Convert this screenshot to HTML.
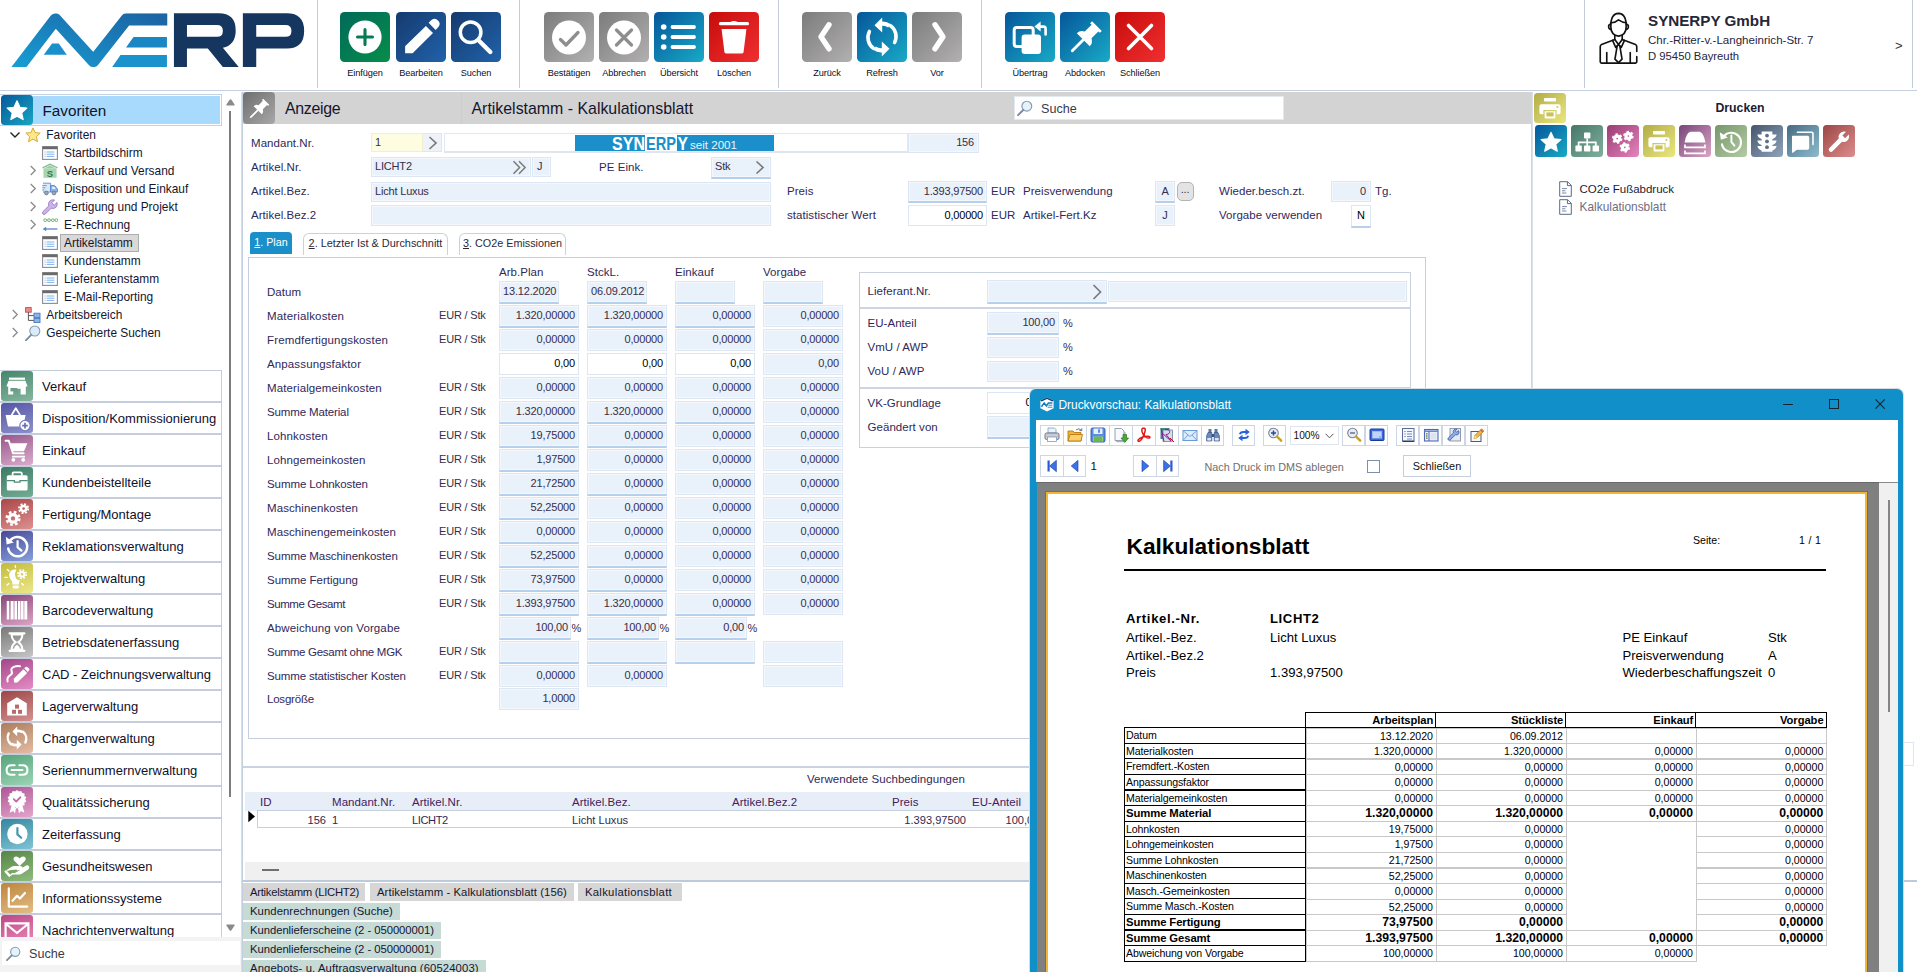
<!DOCTYPE html>
<html><head><meta charset="utf-8"><title>AvERP</title><style>
html,body{margin:0;padding:0;background:#fff;overflow:hidden;}
body{font-family:"Liberation Sans",sans-serif;color:#1b1b33;}
#root{position:relative;width:1917px;height:972px;overflow:hidden;background:#fff;}
#root div,#root svg,#root span.a{position:absolute;box-sizing:border-box;}
.t{white-space:nowrap;}
.l{font-size:11.5px;color:#30285a;letter-spacing:0.05px;}
.v{font-size:11px;color:#382e48;letter-spacing:-.18px;}
.g{font-size:11.1px;color:#32284e;}
.k{color:#000;}
.tb{font-size:9.2px;color:#0c0c26;text-align:center;letter-spacing:-.1px;}
.tr{font-size:11.9px;color:#15152f;}
.md{font-size:13px;color:#10102a;}
.hd{font-size:15.9px;color:#15152f;}
.bt{font-size:11.5px;color:#15152f;}
.pv{font-size:13.1px;color:#000;}
.pt{font-size:10.6px;color:#000;letter-spacing:-0.12px;}
.f{background:#e9f1fa;border:1px solid #dce7f3;box-shadow:inset 0 0 0 1px #f4f8fd;}

.fw{background:#fff;border:1px solid #dce7f3;}
</style></head>
<body><div id="root">
<div style="left:0px;top:90.2px;width:1917px;height:1.2px;background:#c6d0de;"></div>
<div style="left:317px;top:0px;width:1px;height:88px;background:#c3cbd8;"></div>
<div style="left:519px;top:0px;width:1px;height:88px;background:#c3cbd8;"></div>
<div style="left:778px;top:0px;width:1px;height:88px;background:#c3cbd8;"></div>
<div style="left:981px;top:0px;width:1px;height:88px;background:#c3cbd8;"></div>
<div style="left:1584px;top:0px;width:1px;height:88px;background:#c3cbd8;"></div>
<div style="left:1912px;top:0px;width:1px;height:88px;background:#c3cbd8;"></div>
<svg style="left:0px;top:0px;" width="320" height="90" viewBox="0 0 1917 539">
<defs><linearGradient id="lg" x1="0" y1="1" x2="1" y2="0"><stop offset="0" stop-color="#16a2d8"/><stop offset="1" stop-color="#1c64a4"/></linearGradient>
<clipPath id="lc"><rect x="0" y="80" width="1002" height="322"/></clipPath></defs>
<g clip-path="url(#lc)">
<path d="M76 450 L113 402 L332 116 L560 366 L757 116 L1010 116" fill="none" stroke="url(#lg)" stroke-width="72" stroke-linejoin="round"/>
</g>
<path d="M262 328 L400 328 L352 260 L312 260 Z" fill="#1a8fcb"/>
<path d="M800 222 H1000 V285 H755 Z" fill="#1a86c4"/>
<path d="M722 330 H1000 V402 H672 Z" fill="#1a92cc"/>
<path fill-rule="evenodd" fill="#14365f" d="M1042 80 H1310 Q1412 80 1412 182 Q1412 268 1335 286 L1430 402 H1335 L1245 290 H1120 V402 H1042 Z M1120 150 V220 H1300 Q1335 220 1335 185 Q1335 150 1300 150 Z"/>
<path fill-rule="evenodd" fill="#14365f" d="M1455 80 H1718 Q1822 80 1822 185 Q1822 290 1718 290 H1535 V402 H1455 Z M1535 150 V220 H1710 Q1746 220 1746 185 Q1746 150 1710 150 Z"/>
</svg>
<div style="left:340px;top:12px;width:50px;height:50px;background:linear-gradient(135deg,#006a5a,#078e4a);border-radius:4.5px;"></div>
<svg style="left:340px;top:12px;" width="50" height="50" viewBox="0 0 50 50"><circle cx="25" cy="25" r="16.6" fill="#fff"/><path d="M25 17.5v15M17.5 25h15" stroke="#067a52" stroke-width="3.1" stroke-linecap="round"/></svg>
<div class="t tb" style="left:330px;top:65.50px;line-height:14px;height:14px;width:70px;">Einfügen</div>
<div style="left:396px;top:12px;width:50px;height:50px;background:linear-gradient(135deg,#153a6e,#2162aa);border-radius:4.5px;"></div>
<svg style="left:396px;top:12px;" width="50" height="50" viewBox="0 0 50 50"><g transform="translate(.6 0)"><path d="M8.5 34.3 L29.3 13.9 L36.4 21 L16 41.3 H8.5 Z" fill="#fff"/><path d="M32 10.8 L35.2 7.7 Q38.6 5.4 41.4 8.6 Q44.6 11.8 41.8 15 L39 17.9 Z" fill="#fff"/></g></svg>
<div class="t tb" style="left:386px;top:65.50px;line-height:14px;height:14px;width:70px;">Bearbeiten</div>
<div style="left:451px;top:12px;width:50px;height:50px;background:linear-gradient(135deg,#153a6e,#2162aa);border-radius:4.5px;"></div>
<svg style="left:451px;top:12px;" width="50" height="50" viewBox="0 0 50 50"><circle cx="19.6" cy="20.2" r="10.3" fill="none" stroke="#fff" stroke-width="3.5"/><path d="M28.5 29.2 L39.3 40" stroke="#fff" stroke-width="4.4" stroke-linecap="round"/></svg>
<div class="t tb" style="left:441px;top:65.50px;line-height:14px;height:14px;width:70px;">Suchen</div>
<div style="left:544px;top:12px;width:50px;height:50px;background:linear-gradient(135deg,#7c7c7c,#b2b0b0);border-radius:4.5px;"></div>
<svg style="left:544px;top:12px;" width="50" height="50" viewBox="0 0 50 50"><circle cx="25" cy="25.5" r="17" fill="#fff"/><path d="M16.5 27.5 L22 33 L34 20.5" fill="none" stroke="#8e8e8e" stroke-width="3.3" stroke-linecap="round" stroke-linejoin="round"/></svg>
<div class="t tb" style="left:534px;top:65.50px;line-height:14px;height:14px;width:70px;">Bestätigen</div>
<div style="left:599px;top:12px;width:50px;height:50px;background:linear-gradient(135deg,#7c7c7c,#b2b0b0);border-radius:4.5px;"></div>
<svg style="left:599px;top:12px;" width="50" height="50" viewBox="0 0 50 50"><circle cx="25" cy="25.5" r="17" fill="#fff"/><path d="M17.5 18 L32.5 33 M32.5 18 L17.5 33" stroke="#8e8e8e" stroke-width="3.3" stroke-linecap="round"/></svg>
<div class="t tb" style="left:589px;top:65.50px;line-height:14px;height:14px;width:70px;">Abbrechen</div>
<div style="left:654px;top:12px;width:50px;height:50px;background:linear-gradient(135deg,#06569a,#18aac6);border-radius:4.5px;"></div>
<svg style="left:654px;top:12px;" width="50" height="50" viewBox="0 0 50 50"><circle cx="9.7" cy="15" r="2.8" fill="#fff"/><circle cx="9.7" cy="25" r="2.8" fill="#fff"/><circle cx="9.7" cy="35" r="2.8" fill="#fff"/><path d="M18.5 15H40M18.5 25H40M18.5 35H40" stroke="#fff" stroke-width="3.8" stroke-linecap="round"/></svg>
<div class="t tb" style="left:644px;top:65.50px;line-height:14px;height:14px;width:70px;">Übersicht</div>
<div style="left:709px;top:12px;width:50px;height:50px;background:linear-gradient(135deg,#c70b0b,#f03030);border-radius:4.5px;"></div>
<svg style="left:709px;top:12px;" width="50" height="50" viewBox="0 0 50 50"><path d="M11.5 11.7H38.5" stroke="#fff" stroke-width="3.2" stroke-linecap="round"/><path d="M21 10.2 q4 -2.4 8 0z" fill="#fff"/><path d="M12.6 17 H37.4 L34.6 40 Q34.4 41.4 33 41.4 H17 Q15.6 41.4 15.4 40 Z" fill="#fff"/></svg>
<div class="t tb" style="left:699px;top:65.50px;line-height:14px;height:14px;width:70px;">Löschen</div>
<div style="left:802px;top:12px;width:50px;height:50px;background:linear-gradient(135deg,#7c7c7c,#b2b0b0);border-radius:4.5px;"></div>
<svg style="left:802px;top:12px;" width="50" height="50" viewBox="0 0 50 50"><path d="M27 12.8 L19 24.8 L27 36.8" fill="none" stroke="#fff" stroke-width="5.4" stroke-linecap="round" stroke-linejoin="round"/></svg>
<div class="t tb" style="left:792px;top:65.50px;line-height:14px;height:14px;width:70px;">Zurück</div>
<div style="left:857px;top:12px;width:50px;height:50px;background:linear-gradient(135deg,#06569a,#18aac6);border-radius:4.5px;"></div>
<svg style="left:857px;top:12px;" width="50" height="50" viewBox="0 0 50 50"><path d="M33.5 13.6 A13.4 13.4 0 0 1 37.6 30.5" fill="none" stroke="#fff" stroke-width="3.6" stroke-linecap="round"/><path d="M16.5 36.4 A13.4 13.4 0 0 1 12.4 19.5" fill="none" stroke="#fff" stroke-width="3.6" stroke-linecap="round"/><path d="M17.5 13.2 L25.2 5.6 V9.6 Q30 9.4 33.8 12.2 L31.2 15.6 Q28.6 13.6 25.2 13.8 V20.4 Z" fill="#fff"/><path d="M32.5 36.8 L24.8 44.4 V40.4 Q20 40.6 16.2 37.8 L18.8 34.4 Q21.4 36.4 24.8 36.2 V29.6 Z" fill="#fff"/></svg>
<div class="t tb" style="left:847px;top:65.50px;line-height:14px;height:14px;width:70px;">Refresh</div>
<div style="left:912px;top:12px;width:50px;height:50px;background:linear-gradient(135deg,#7c7c7c,#b2b0b0);border-radius:4.5px;"></div>
<svg style="left:912px;top:12px;" width="50" height="50" viewBox="0 0 50 50"><path d="M23 12.8 L31 24.8 L23 36.8" fill="none" stroke="#fff" stroke-width="5.4" stroke-linecap="round" stroke-linejoin="round"/></svg>
<div class="t tb" style="left:902px;top:65.50px;line-height:14px;height:14px;width:70px;">Vor</div>
<div style="left:1005px;top:12px;width:50px;height:50px;background:linear-gradient(135deg,#06569a,#18aac6);border-radius:4.5px;"></div>
<svg style="left:1005px;top:12px;" width="50" height="50" viewBox="0 0 50 50"><rect x="9.2" y="15.5" width="19" height="19" rx="2.6" fill="none" stroke="#fff" stroke-width="3"/><rect x="16.6" y="22.6" width="19.4" height="19.4" rx="3" fill="#fff"/><path d="M34.6 14.6 H38.6 Q40.6 14.6 40.6 16.8 V22.4" fill="none" stroke="#fff" stroke-width="2.6" stroke-linecap="round"/><path d="M29.4 14.6 L35.6 9.6 V19.6 Z" fill="#fff"/></svg>
<div class="t tb" style="left:995px;top:65.50px;line-height:14px;height:14px;width:70px;">Übertrag</div>
<div style="left:1060px;top:12px;width:50px;height:50px;background:linear-gradient(135deg,#06569a,#18aac6);border-radius:4.5px;"></div>
<svg style="left:1060px;top:12px;" width="50" height="50" viewBox="0 0 50 50"><g transform="translate(25.4 25.6) scale(.88) rotate(45) translate(-25 -25)"><path d="M17.2 6.5 H32.8 V9.6 H30.4 V20.6 Q35.4 23 35.4 28.4 H14.6 Q14.6 23 19.6 20.6 V9.6 H17.2 Z" fill="#fff"/><path d="M25 28 V46" stroke="#fff" stroke-width="3.2" stroke-linecap="round"/></g></svg>
<div class="t tb" style="left:1050px;top:65.50px;line-height:14px;height:14px;width:70px;">Abdocken</div>
<div style="left:1115px;top:12px;width:50px;height:50px;background:linear-gradient(135deg,#c70b0b,#f03030);border-radius:4.5px;"></div>
<svg style="left:1115px;top:12px;" width="50" height="50" viewBox="0 0 50 50"><path d="M13.5 13.5 L36.5 36.5 M36.5 13.5 L13.5 36.5" stroke="#fff" stroke-width="3.6" stroke-linecap="round"/></svg>
<div class="t tb" style="left:1105px;top:65.50px;line-height:14px;height:14px;width:70px;">Schließen</div>
<svg style="left:1598.3px;top:9.5px;" width="41" height="56" viewBox="0 0 44 60">
<g fill="none" stroke="#111" stroke-width="1.75" stroke-linejoin="round" stroke-linecap="round">
<path d="M13.8 18.6 Q13.2 4 22 3.6 Q30.8 4 30.2 18.6 Q30 27 22 28 Q14 27 13.8 18.6 Z"/>
<path d="M13.6 13.6 Q18 14 22 10.6 Q26 13.4 30.4 13.6"/>
<path d="M13.6 15 q-2.4 .4 -2.2 3.2 q.2 2.4 2.6 2.6 M30.4 15 q2.4 .4 2.2 3.2 q-.2 2.4 -2.6 2.6"/>
<path d="M18 27 V31.6 M26 27 V31.6"/>
<path d="M18 31.6 L3.8 37 Q2.4 37.6 2.4 39.4 V55.6 Q2.4 57 3.8 57 H40.2 Q41.6 57 41.6 55.6 V50 M41.6 44.4 V39.4 Q41.6 37.6 40.2 37 L26 31.6"/>
<path d="M9.4 45.6 V57 M34.6 45.6 V57"/>
<path d="M18 31.6 L22 37 L26 31.6 M15.6 32.6 L19 40 L22 37 L25 40 L28.4 32.6"/>
<path d="M20.6 38.4 L18.2 52.6 L22 56.4 L25.8 52.6 L23.4 38.4"/>
</g></svg>
<div class="t " style="left:1648px;top:10.80px;line-height:20px;height:20px;font-size:15.2px;font-weight:700;color:#26263a;">SYNERPY GmbH</div>
<div class="t " style="left:1648px;top:30.60px;line-height:18px;height:18px;font-size:11.55px;color:#26263e;">Chr.-Ritter-v.-Langheinrich-Str. 7</div>
<div class="t " style="left:1648px;top:47.40px;line-height:18px;height:18px;font-size:11.3px;color:#26263e;">D 95450 Bayreuth</div>
<div class="t " style="left:1895px;top:36.50px;line-height:18px;height:18px;font-size:13px;color:#333;">&gt;</div>
<div style="left:0px;top:94px;width:222px;height:32px;border:1px solid #c3d3e6;border-left:none;background:#fff;"></div>
<div style="left:33px;top:96px;width:187px;height:28px;background:#a7dafc;"></div>
<div style="left:1px;top:95px;width:32px;height:30px;background:linear-gradient(135deg,#06589a,#17a6c4);border-radius:3.5px;"></div>
<svg style="left:1px;top:95px;" width="32" height="30" viewBox="0 0 32 30"><path d="M16 3.4 L19.5 11 L27.7 11.9 L21.6 17.5 L23.3 25.7 L16 21.6 L8.7 25.7 L10.4 17.5 L4.3 11.9 L12.5 11 Z" transform="translate(16 15.6) scale(.84) translate(-16 -15)" fill="#fff" stroke="#fff" stroke-width="1.4" stroke-linejoin="round"/></svg>
<div class="t " style="left:42.5px;top:100.00px;line-height:22px;height:22px;font-size:15.3px;color:#12122e;">Favoriten</div>
<svg style="left:9px;top:131.2px;" width="12" height="8" viewBox="0 0 11 8"><path d="M1 1.5 L5.5 6 L10 1.5" fill="none" stroke="#222" stroke-width="1.4"/></svg>
<svg style="left:24.5px;top:126.69999999999999px;" width="16" height="16" viewBox="0 0 16 16"><path d="M8 .9 L10.1 5.6 L15.2 6.1 L11.4 9.6 L12.5 14.7 L8 12.1 L3.5 14.7 L4.6 9.6 L.8 6.1 L5.9 5.6 Z" fill="#fde88a" stroke="#d9a93a" stroke-width="1" stroke-linejoin="round"/></svg>
<div class="t tr" style="left:46.3px;top:125.70px;line-height:18px;height:18px;">Favoriten</div>
<svg style="left:42px;top:146.10000000000002px;" width="16" height="14" viewBox="0 0 16 14"><rect x=".6" y=".6" width="14.8" height="12.8" fill="#fff" stroke="#8c8c8c" stroke-width="1.1"/><rect x=".6" y=".6" width="14.8" height="2.6" fill="#6a6a6a"/><path d="M4.6 6H12.4M4.6 8.2H12.4M4.6 10.4H12.4" stroke="#7fb4ee" stroke-width="1"/><path d="M2.6 6h1M2.6 8.2h1M2.6 10.4h1" stroke="#7fb4ee" stroke-width="1"/></svg>
<div class="t tr" style="left:64px;top:143.80px;line-height:18px;height:18px;">Startbildschirm</div>
<svg style="left:29px;top:165.3px;" width="8" height="11" viewBox="0 0 7.5 11"><path d="M1.5 1 L6 5.5 L1.5 10" fill="none" stroke="#8a8a8a" stroke-width="1.3"/></svg>
<svg style="left:42px;top:162.8px;" width="16" height="16" viewBox="0 0 16 16"><path d="M8 .6 L15.6 4.2 V5.4 L8 1.9 L.4 5.4 V4.2 Z" fill="#7dbb8c"/><path d="M8 2.6 L14.4 5.6 H1.6 Z" fill="#9ccfa6"/><rect x="1.4" y="5.4" width="13.2" height="9.4" fill="#a9d6b0"/><text x="8" y="13.6" font-size="9.4" font-weight="700" text-anchor="middle" fill="#2f7a4c" font-family="Liberation Sans">S</text></svg>
<div class="t tr" style="left:64px;top:161.80px;line-height:18px;height:18px;">Verkauf und Versand</div>
<svg style="left:29px;top:183.3px;" width="8" height="11" viewBox="0 0 7.5 11"><path d="M1.5 1 L6 5.5 L1.5 10" fill="none" stroke="#8a8a8a" stroke-width="1.3"/></svg>
<svg style="left:42px;top:180.8px;" width="16" height="16" viewBox="0 0 16 16"><path d="M1 2.2H8.6V11H1" fill="#dbe8f8" stroke="#6e9ad4" stroke-width="1"/><path d="M8.6 4.6H12.6L15.4 8V11H8.6Z" fill="#8db4e8" stroke="#5c8bcc" stroke-width="1"/><path d="M10.2 5.8h2l1.6 2.2h-3.6z" fill="#e8f1fc"/><path d="M.2 4.6h4.4M.2 6.8h3.2M.2 9h2.2" stroke="#6e9ad4" stroke-width="1"/><circle cx="4.4" cy="12" r="1.9" fill="#9aa8b8" stroke="#6a7888" stroke-width=".8"/><circle cx="12" cy="12" r="1.9" fill="#9aa8b8" stroke="#6a7888" stroke-width=".8"/></svg>
<div class="t tr" style="left:64px;top:179.80px;line-height:18px;height:18px;">Disposition und Einkauf</div>
<svg style="left:29px;top:201.3px;" width="8" height="11" viewBox="0 0 7.5 11"><path d="M1.5 1 L6 5.5 L1.5 10" fill="none" stroke="#8a8a8a" stroke-width="1.3"/></svg>
<svg style="left:42px;top:198.8px;" width="16" height="16" viewBox="0 0 16 16"><path d="M15 3.4 L12.2 6.2 L9.8 3.8 L12.6 1 Q9.6 .2 7.6 2.2 Q5.8 4.2 6.8 6.8 L.9 12.7 Q-.1 13.9 1 15 Q2.1 16.1 3.3 15.1 L9.2 9.2 Q11.8 10.2 13.8 8.4 Q15.8 6.4 15 3.4 Z" fill="#cbb4e6" stroke="#9a7cc4" stroke-width=".9"/></svg>
<div class="t tr" style="left:64px;top:197.80px;line-height:18px;height:18px;">Fertigung und Projekt</div>
<svg style="left:29px;top:219.3px;" width="8" height="11" viewBox="0 0 7.5 11"><path d="M1.5 1 L6 5.5 L1.5 10" fill="none" stroke="#8a8a8a" stroke-width="1.3"/></svg>
<svg style="left:42px;top:216.8px;" width="16" height="16" viewBox="0 0 16 16"><path d="M2 3.2H15" stroke="#8ac494" stroke-width="1"/><circle cx="3.2" cy="3.2" r="1.4" fill="#fff" stroke="#5fae6e" stroke-width=".9"/><circle cx="7" cy="3.2" r="1.4" fill="#fff" stroke="#5fae6e" stroke-width=".9"/><circle cx="10.8" cy="3.2" r="1.4" fill="#fff" stroke="#5fae6e" stroke-width=".9"/><circle cx="14.4" cy="3.2" r="1.4" fill="#fff" stroke="#5fae6e" stroke-width=".9"/><path d="M3 12H15.4" stroke="#5a86c8" stroke-width="1.3"/><path d="M.6 12 L4.2 9.8 V14.2 Z" fill="#5a86c8"/></svg>
<div class="t tr" style="left:64px;top:215.80px;line-height:18px;height:18px;">E-Rechnung</div>
<svg style="left:42px;top:236.10000000000002px;" width="16" height="14" viewBox="0 0 16 14"><rect x=".6" y=".6" width="14.8" height="12.8" fill="#fff" stroke="#8c8c8c" stroke-width="1.1"/><rect x=".6" y=".6" width="14.8" height="2.6" fill="#6a6a6a"/><path d="M4.6 6H12.4M4.6 8.2H12.4M4.6 10.4H12.4" stroke="#7fb4ee" stroke-width="1"/><path d="M2.6 6h1M2.6 8.2h1M2.6 10.4h1" stroke="#7fb4ee" stroke-width="1"/></svg>
<div style="left:60px;top:234.0px;width:79px;height:17.6px;background:#d9d9d9;border:1px solid #adadad;"></div>
<div class="t tr" style="left:64px;top:233.80px;line-height:18px;height:18px;">Artikelstamm</div>
<svg style="left:42px;top:254.10000000000002px;" width="16" height="14" viewBox="0 0 16 14"><rect x=".6" y=".6" width="14.8" height="12.8" fill="#fff" stroke="#8c8c8c" stroke-width="1.1"/><rect x=".6" y=".6" width="14.8" height="2.6" fill="#6a6a6a"/><path d="M4.6 6H12.4M4.6 8.2H12.4M4.6 10.4H12.4" stroke="#7fb4ee" stroke-width="1"/><path d="M2.6 6h1M2.6 8.2h1M2.6 10.4h1" stroke="#7fb4ee" stroke-width="1"/></svg>
<div class="t tr" style="left:64px;top:251.80px;line-height:18px;height:18px;">Kundenstamm</div>
<svg style="left:42px;top:272.1px;" width="16" height="14" viewBox="0 0 16 14"><rect x=".6" y=".6" width="14.8" height="12.8" fill="#fff" stroke="#8c8c8c" stroke-width="1.1"/><rect x=".6" y=".6" width="14.8" height="2.6" fill="#6a6a6a"/><path d="M4.6 6H12.4M4.6 8.2H12.4M4.6 10.4H12.4" stroke="#7fb4ee" stroke-width="1"/><path d="M2.6 6h1M2.6 8.2h1M2.6 10.4h1" stroke="#7fb4ee" stroke-width="1"/></svg>
<div class="t tr" style="left:64px;top:269.80px;line-height:18px;height:18px;">Lieferantenstamm</div>
<svg style="left:42px;top:290.1px;" width="16" height="14" viewBox="0 0 16 14"><rect x=".6" y=".6" width="14.8" height="12.8" fill="#fff" stroke="#8c8c8c" stroke-width="1.1"/><rect x=".6" y=".6" width="14.8" height="2.6" fill="#6a6a6a"/><path d="M4.6 6H12.4M4.6 8.2H12.4M4.6 10.4H12.4" stroke="#7fb4ee" stroke-width="1"/><path d="M2.6 6h1M2.6 8.2h1M2.6 10.4h1" stroke="#7fb4ee" stroke-width="1"/></svg>
<div class="t tr" style="left:64px;top:287.80px;line-height:18px;height:18px;">E-Mail-Reporting</div>
<svg style="left:11px;top:309.3px;" width="8" height="11" viewBox="0 0 7.5 11"><path d="M1.5 1 L6 5.5 L1.5 10" fill="none" stroke="#8a8a8a" stroke-width="1.3"/></svg>
<svg style="left:24.5px;top:306.8px;" width="16" height="16" viewBox="0 0 16 16"><rect x=".6" y=".6" width="5.6" height="4.6" fill="#f08a8a" stroke="#c84a4a" stroke-width=".9"/><path d="M3.4 5.2V13.4H9M3.4 8.6H9" fill="none" stroke="#555" stroke-width="1"/><rect x="9" y="6.2" width="6" height="4.4" fill="#8db4e8" stroke="#4a78c0" stroke-width=".9"/><rect x="9" y="11.4" width="6" height="4.2" fill="#8db4e8" stroke="#4a78c0" stroke-width=".9"/></svg>
<div class="t tr" style="left:46.3px;top:305.80px;line-height:18px;height:18px;">Arbeitsbereich</div>
<svg style="left:11px;top:327.3px;" width="8" height="11" viewBox="0 0 7.5 11"><path d="M1.5 1 L6 5.5 L1.5 10" fill="none" stroke="#8a8a8a" stroke-width="1.3"/></svg>
<svg style="left:24.5px;top:324.8px;" width="16" height="16" viewBox="0 0 16 16"><circle cx="9.8" cy="6" r="5" fill="#d8ecfb" stroke="#8a9aae" stroke-width="1.1"/><path d="M6.2 9.8 L.9 15.3" stroke="#7a8aa0" stroke-width="1.8" stroke-linecap="round"/></svg>
<div class="t tr" style="left:46.3px;top:323.80px;line-height:18px;height:18px;">Gespeicherte Suchen</div>
<svg style="left:225.5px;top:98.5px;" width="9" height="7" viewBox="0 0 9 7"><path d="M4.5 .2 Q5 .2 5.4 .8 L8.6 5.6 Q9 6.6 8 6.6 H1 Q0 6.6 .4 5.6 L3.6 .8 Q4 .2 4.5 .2Z" fill="#8a8a8a"/></svg>
<div style="left:229px;top:111px;width:2px;height:686px;background:#7d7d7d;"></div>
<svg style="left:225.5px;top:924px;" width="9" height="7" viewBox="0 0 9 7"><path d="M4.5 6.8 Q5 6.8 5.4 6.2 L8.6 1.4 Q9 .4 8 .4 H1 Q0 .4 .4 1.4 L3.6 6.2 Q4 6.8 4.5 6.8Z" fill="#8a8a8a"/></svg>
<div style="left:241px;top:92px;width:2px;height:880px;background:linear-gradient(90deg,#dfe7f0,#b9c7d9);"></div>
<div style="left:0px;top:370px;width:222px;height:32px;overflow:hidden;"><div style="left:0;top:0;width:222px;height:32px;border:1px solid #c3cddd;border-left:none;background:#fff;"></div><div style="left:1px;top:1px;width:220px;height:31px;overflow:hidden"><div style="left:0;top:0;width:32px;height:30px;border-radius:3px;background:linear-gradient(160deg,#44866a,#86b6a0);"></div><svg style="left:0;top:0" width="32" height="30" viewBox="0 0 32 30"><path d="M8 6.6h16v2.2H8z" fill="#fff"/><path d="M7.6 9.8h16.8l2.2 5.6h-1.8v8.2H19.6v-5.8h-7.4v5.8H7.2v-8.2H5.4z" fill="#fff"/><rect x="9.4" y="17" width="6.8" height="3.4" fill="#6a9e88"/></svg><div class="t md" style="left:41px;top:6px;line-height:20px;height:20px">Verkauf</div></div></div>
<div style="left:0px;top:402px;width:222px;height:32px;overflow:hidden;"><div style="left:0;top:0;width:222px;height:32px;border:1px solid #c3cddd;border-left:none;background:#fff;"></div><div style="left:1px;top:1px;width:220px;height:31px;overflow:hidden"><div style="left:0;top:0;width:32px;height:30px;border-radius:3px;background:linear-gradient(160deg,#5555a4,#8e92cc);"></div><svg style="left:0;top:0" width="32" height="30" viewBox="0 0 32 30"><path d="M4.6 12h20l-2.4 11.4H7z" fill="#fff"/><path d="M10.4 12.4 L14.8 5.2 L19.2 12.4" fill="none" stroke="#fff" stroke-width="1.8" stroke-linejoin="round"/><circle cx="24" cy="22.6" r="5.2" fill="#fff" stroke="#7a7ebc" stroke-width="1.2"/><path d="M24 19.8v5.6M21.2 22.6h5.6" stroke="#6a6eb4" stroke-width="1.7"/></svg><div class="t md" style="left:41px;top:6px;line-height:20px;height:20px">Disposition/Kommissionierung</div></div></div>
<div style="left:0px;top:434px;width:222px;height:32px;overflow:hidden;"><div style="left:0;top:0;width:222px;height:32px;border:1px solid #c3cddd;border-left:none;background:#fff;"></div><div style="left:1px;top:1px;width:220px;height:31px;overflow:hidden"><div style="left:0;top:0;width:32px;height:30px;border-radius:3px;background:linear-gradient(160deg,#96568a,#daaccc);"></div><svg style="left:0;top:0" width="32" height="30" viewBox="0 0 32 30"><path d="M4.6 5.8h3.2l4.2 12.4h10.6" fill="none" stroke="#fff" stroke-width="2" stroke-linejoin="round" stroke-linecap="round"/><path d="M9 8.2h17.4l-3.4 8H11.6z" fill="#fff"/><path d="M11 21.6h13" stroke="#fff" stroke-width="1.8"/><circle cx="12.4" cy="24.8" r="1.9" fill="#fff"/><circle cx="22.2" cy="24.8" r="1.9" fill="#fff"/></svg><div class="t md" style="left:41px;top:6px;line-height:20px;height:20px">Einkauf</div></div></div>
<div style="left:0px;top:466px;width:222px;height:32px;overflow:hidden;"><div style="left:0;top:0;width:222px;height:32px;border:1px solid #c3cddd;border-left:none;background:#fff;"></div><div style="left:1px;top:1px;width:220px;height:31px;overflow:hidden"><div style="left:0;top:0;width:32px;height:30px;border-radius:3px;background:linear-gradient(160deg,#3a7a64,#74ac94);"></div><svg style="left:0;top:0" width="32" height="30" viewBox="0 0 32 30"><rect x="5.8" y="8.2" width="20.8" height="15.4" rx="1.6" fill="#fff"/><path d="M11.6 8.4V6.6q0-1.2 1.2-1.2h6.8q1.2 0 1.2 1.2v1.8" fill="none" stroke="#fff" stroke-width="1.8"/><path d="M5.8 13.6h7.6v1.6h5.6v-1.6h7.6" fill="none" stroke="#4f8c76" stroke-width="1.3"/></svg><div class="t md" style="left:41px;top:6px;line-height:20px;height:20px">Kundenbeistellteile</div></div></div>
<div style="left:0px;top:498px;width:222px;height:32px;overflow:hidden;"><div style="left:0;top:0;width:222px;height:32px;border:1px solid #c3cddd;border-left:none;background:#fff;"></div><div style="left:1px;top:1px;width:220px;height:31px;overflow:hidden"><div style="left:0;top:0;width:32px;height:30px;border-radius:3px;background:linear-gradient(160deg,#ac4646,#dc9090);"></div><svg style="left:0;top:0" width="32" height="30" viewBox="0 0 32 30"><g fill="none" stroke="#fff"><circle cx="12" cy="19.4" r="3.8" stroke-width="3.2"/><circle cx="12" cy="19.4" r="6.3" stroke-width="2.6" stroke-dasharray="2.6 2.35"/><circle cx="22.6" cy="9.6" r="2.6" stroke-width="2.4"/><circle cx="22.6" cy="9.6" r="4.5" stroke-width="2" stroke-dasharray="1.9 1.63"/></g></svg><div class="t md" style="left:41px;top:6px;line-height:20px;height:20px">Fertigung/Montage</div></div></div>
<div style="left:0px;top:530px;width:222px;height:32px;overflow:hidden;"><div style="left:0;top:0;width:222px;height:32px;border:1px solid #c3cddd;border-left:none;background:#fff;"></div><div style="left:1px;top:1px;width:220px;height:31px;overflow:hidden"><div style="left:0;top:0;width:32px;height:30px;border-radius:3px;background:linear-gradient(160deg,#484896,#84a0dc);"></div><svg style="left:0;top:0" width="32" height="30" viewBox="0 0 32 30"><path d="M8.6 10.4 A9.6 9.6 0 1 1 7.2 17.6" fill="none" stroke="#fff" stroke-width="2.5" stroke-linecap="round"/><path d="M4.8 5.8 L5.6 13.4 L12.8 11.6 Z" fill="#fff"/><path d="M16.6 10v6.2l3.8 3.4" fill="none" stroke="#fff" stroke-width="2.2" stroke-linecap="round"/></svg><div class="t md" style="left:41px;top:6px;line-height:20px;height:20px">Reklamationsverwaltung</div></div></div>
<div style="left:0px;top:562px;width:222px;height:32px;overflow:hidden;"><div style="left:0;top:0;width:222px;height:32px;border:1px solid #c3cddd;border-left:none;background:#fff;"></div><div style="left:1px;top:1px;width:220px;height:31px;overflow:hidden"><div style="left:0;top:0;width:32px;height:30px;border-radius:3px;background:linear-gradient(160deg,#c2ba3c,#ece888);"></div><svg style="left:0;top:0" width="32" height="30" viewBox="0 0 32 30"><path d="M15.4 6.6 Q10 5.6 8.4 10.6 Q7.6 14.4 10.4 17.4 Q11.4 18.6 11.4 20.4 V21.4 H18 V20.4 Q18 18.8 19.2 17.6 Q16 17.8 14.6 14.6 Q13.2 10.6 15.4 6.6Z" fill="#fff"/><rect x="11.6" y="22.4" width="6.2" height="3" rx="1" fill="#fff"/><g fill="none" stroke="#fff"><circle cx="21" cy="11.2" r="2.3" stroke-width="2"/><circle cx="21" cy="11.2" r="4.1" stroke-width="1.8" stroke-dasharray="1.7 1.52"/></g><path d="M4 14.4h2.4M6.4 6.4l1.6 1.6M14.4 2.6v2M6 22l1.8-1.4M22.4 22l-1.6-1.4" stroke="#fff" stroke-width="1.4" stroke-linecap="round"/></svg><div class="t md" style="left:41px;top:6px;line-height:20px;height:20px">Projektverwaltung</div></div></div>
<div style="left:0px;top:594px;width:222px;height:32px;overflow:hidden;"><div style="left:0;top:0;width:222px;height:32px;border:1px solid #c3cddd;border-left:none;background:#fff;"></div><div style="left:1px;top:1px;width:220px;height:31px;overflow:hidden"><div style="left:0;top:0;width:32px;height:30px;border-radius:3px;background:linear-gradient(160deg,#86467a,#dca4c4);"></div><svg style="left:0;top:0" width="32" height="30" viewBox="0 0 32 30"><path d="M7 6v18.4M10.8 6v18.4M14.8 6v18.4M18.2 6v18.4M21.2 6v18.4M25 6v18.4" stroke="#fff" stroke-width="2.5"/><path d="M12.8 6v18.4M23.2 6v18.4" stroke="#fff" stroke-width=".9"/></svg><div class="t md" style="left:41px;top:6px;line-height:20px;height:20px">Barcodeverwaltung</div></div></div>
<div style="left:0px;top:626px;width:222px;height:32px;overflow:hidden;"><div style="left:0;top:0;width:222px;height:32px;border:1px solid #c3cddd;border-left:none;background:#fff;"></div><div style="left:1px;top:1px;width:220px;height:31px;overflow:hidden"><div style="left:0;top:0;width:32px;height:30px;border-radius:3px;background:linear-gradient(160deg,#787878,#c6c6c6);"></div><svg style="left:0;top:0" width="32" height="30" viewBox="0 0 32 30"><path d="M8.6 6.4h14.8M8.6 23.8h14.8" stroke="#fff" stroke-width="2.2" stroke-linecap="round"/><path d="M10.6 7.4h10.8q0 4.6-4 7.7q4 3 4 7.7H10.6q0-4.7 4-7.7q-4-3.1-4-7.7z" fill="none" stroke="#fff" stroke-width="2"/><path d="M12.6 22.4q1-3.4 3.4-4.6q2.4 1.2 3.4 4.6z" fill="#fff"/></svg><div class="t md" style="left:41px;top:6px;line-height:20px;height:20px">Betriebsdatenerfassung</div></div></div>
<div style="left:0px;top:658px;width:222px;height:32px;overflow:hidden;"><div style="left:0;top:0;width:222px;height:32px;border:1px solid #c3cddd;border-left:none;background:#fff;"></div><div style="left:1px;top:1px;width:220px;height:31px;overflow:hidden"><div style="left:0;top:0;width:32px;height:30px;border-radius:3px;background:linear-gradient(160deg,#a4468a,#e48cc4);"></div><svg style="left:0;top:0" width="32" height="30" viewBox="0 0 32 30"><path d="M6.6 22.6 Q5.6 18.6 9 16.4 Q12 14.6 10.6 12 Q9.4 9.2 13.4 7.6 Q16.4 6.6 19 7.2" fill="none" stroke="#fff" stroke-width="2" stroke-linecap="round"/><path d="M13.4 23.8 L12.6 20 L22.4 10.2 L26.2 14 L16.4 23.6 Z" fill="#fff"/><path d="M23.2 9.2l1.4-1.2q1-.8 2 .2l1.4 1.4q1 1 0 2l-1.2 1.4z" fill="#fff"/></svg><div class="t md" style="left:41px;top:6px;line-height:20px;height:20px">CAD - Zeichnungsverwaltung</div></div></div>
<div style="left:0px;top:690px;width:222px;height:32px;overflow:hidden;"><div style="left:0;top:0;width:222px;height:32px;border:1px solid #c3cddd;border-left:none;background:#fff;"></div><div style="left:1px;top:1px;width:220px;height:31px;overflow:hidden"><div style="left:0;top:0;width:32px;height:30px;border-radius:3px;background:linear-gradient(160deg,#9c4646,#d49090);"></div><svg style="left:0;top:0" width="32" height="30" viewBox="0 0 32 30"><path d="M6.2 12.2 L16 6.2 L25.8 12.2 V24.4 H6.2 Z" fill="#fff"/><rect x="14" y="13.6" width="4" height="4" fill="#b86a6a"/><rect x="11" y="18.8" width="4" height="4" fill="#b86a6a"/><rect x="17" y="18.8" width="4" height="4" fill="#b86a6a"/></svg><div class="t md" style="left:41px;top:6px;line-height:20px;height:20px">Lagerverwaltung</div></div></div>
<div style="left:0px;top:722px;width:222px;height:32px;overflow:hidden;"><div style="left:0;top:0;width:222px;height:32px;border:1px solid #c3cddd;border-left:none;background:#fff;"></div><div style="left:1px;top:1px;width:220px;height:31px;overflow:hidden"><div style="left:0;top:0;width:32px;height:30px;border-radius:3px;background:linear-gradient(160deg,#ac7c5c,#e4bca4);"></div><svg style="left:0;top:0" width="32" height="30" viewBox="0 0 32 30"><path d="M22 8.8 A9 9 0 0 1 24.4 19.6" fill="none" stroke="#fff" stroke-width="2.4" stroke-linecap="round"/><path d="M10 21.2 A9 9 0 0 1 7.6 10.4" fill="none" stroke="#fff" stroke-width="2.4" stroke-linecap="round"/><path d="M11.4 8.4 L16.2 3.6 V6.4 Q19.6 6.2 22.4 8 L20.8 10.2 Q18.8 9 16.2 9.2 V13.2 Z" fill="#fff"/><path d="M20.6 21.6 L15.8 26.4 V23.6 Q12.4 23.8 9.6 22 L11.2 19.8 Q13.2 21 15.8 20.8 V16.8 Z" fill="#fff"/></svg><div class="t md" style="left:41px;top:6px;line-height:20px;height:20px">Chargenverwaltung</div></div></div>
<div style="left:0px;top:754px;width:222px;height:32px;overflow:hidden;"><div style="left:0;top:0;width:222px;height:32px;border:1px solid #c3cddd;border-left:none;background:#fff;"></div><div style="left:1px;top:1px;width:220px;height:31px;overflow:hidden"><div style="left:0;top:0;width:32px;height:30px;border-radius:3px;background:linear-gradient(160deg,#54a47c,#9cd4b4);"></div><svg style="left:0;top:0" width="32" height="30" viewBox="0 0 32 30"><path d="M13.6 10.2H10.4Q5.6 10.2 5.6 15Q5.6 19.8 10.4 19.8H13.6M18.4 10.2H21.6Q26.4 10.2 26.4 15Q26.4 19.8 21.6 19.8H18.4M10.6 15H21.4" fill="none" stroke="#fff" stroke-width="2.1" stroke-linecap="round"/></svg><div class="t md" style="left:41px;top:6px;line-height:20px;height:20px">Seriennummernverwaltung</div></div></div>
<div style="left:0px;top:786px;width:222px;height:32px;overflow:hidden;"><div style="left:0;top:0;width:222px;height:32px;border:1px solid #c3cddd;border-left:none;background:#fff;"></div><div style="left:1px;top:1px;width:220px;height:31px;overflow:hidden"><div style="left:0;top:0;width:32px;height:30px;border-radius:3px;background:linear-gradient(160deg,#ac5694,#e4a4cc);"></div><svg style="left:0;top:0" width="32" height="30" viewBox="0 0 32 30"><path d="M16 4.6l1.8 1.7 2.4-.6 1 2.3 2.4.6-.2 2.5 2 1.5-1.2 2.2 1.2 2.2-2 1.5.2 2.5-2.4.6-1 2.3-2.4-.6-1.8 1.7-1.8-1.7-2.4.6-1-2.3-2.4-.6.2-2.5-2-1.5 1.2-2.2-1.2-2.2 2-1.5-.2-2.5 2.4-.6 1-2.3 2.4.6z" transform="translate(0,-1.4) scale(1,.93)" fill="#fff"/><path d="M10.6 18.4 L8.6 25.8 L12.2 24 L14 26.6 L15 21 M21.4 18.4 L23.4 25.8 L19.8 24 L18 26.6 L17 21" fill="#fff"/><path d="M12.8 12.2l2.4 2.4 4.2-4.4" fill="none" stroke="#bc6ea4" stroke-width="1.9" stroke-linecap="round" stroke-linejoin="round"/></svg><div class="t md" style="left:41px;top:6px;line-height:20px;height:20px">Qualitätssicherung</div></div></div>
<div style="left:0px;top:818px;width:222px;height:32px;overflow:hidden;"><div style="left:0;top:0;width:222px;height:32px;border:1px solid #c3cddd;border-left:none;background:#fff;"></div><div style="left:1px;top:1px;width:220px;height:31px;overflow:hidden"><div style="left:0;top:0;width:32px;height:30px;border-radius:3px;background:linear-gradient(160deg,#36869f,#7ec4d4);"></div><svg style="left:0;top:0" width="32" height="30" viewBox="0 0 32 30"><circle cx="16.4" cy="15" r="10.2" fill="#fff"/><path d="M16.4 9v6.4l3.8 3.4" fill="none" stroke="#4a96ac" stroke-width="2.2" stroke-linecap="round" stroke-linejoin="round"/></svg><div class="t md" style="left:41px;top:6px;line-height:20px;height:20px">Zeiterfassung</div></div></div>
<div style="left:0px;top:850px;width:222px;height:32px;overflow:hidden;"><div style="left:0;top:0;width:222px;height:32px;border:1px solid #c3cddd;border-left:none;background:#fff;"></div><div style="left:1px;top:1px;width:220px;height:31px;overflow:hidden"><div style="left:0;top:0;width:32px;height:30px;border-radius:3px;background:linear-gradient(160deg,#568646,#8ebc7e);"></div><svg style="left:0;top:0" width="32" height="30" viewBox="0 0 32 30"><path d="M19.4 13.6 L13.6 8 Q11.8 5.4 14.4 3.8 Q17 2.8 19.4 5.6 Q21.8 2.8 24.4 3.8 Q27 5.4 25.2 8 Z" transform="translate(.4,2.2) scale(.94)" fill="#fff"/><path d="M6.2 19.6 L11 16.4 Q12 15.8 13.4 15.8 H19.4 Q21 16 20.8 17.4 Q20.6 18.6 19.2 18.6 H15.6 M20.6 18.2 L25 15.4 Q26.6 14.6 27.4 15.8 Q28 17 26.8 17.9 L20.4 22.2 Q19.4 22.8 18 22.8 H11.2 L9.4 24.4" fill="#fff" stroke="#fff" stroke-width="1.4" stroke-linejoin="round"/><path d="M5 19 L10 24.6 L8.2 26.2 L3.2 20.6 Z" fill="#fff"/></svg><div class="t md" style="left:41px;top:6px;line-height:20px;height:20px">Gesundheitswesen</div></div></div>
<div style="left:0px;top:882px;width:222px;height:32px;overflow:hidden;"><div style="left:0;top:0;width:222px;height:32px;border:1px solid #c3cddd;border-left:none;background:#fff;"></div><div style="left:1px;top:1px;width:220px;height:31px;overflow:hidden"><div style="left:0;top:0;width:32px;height:30px;border-radius:3px;background:linear-gradient(160deg,#bc863c,#e4bc84);"></div><svg style="left:0;top:0" width="32" height="30" viewBox="0 0 32 30"><path d="M7.8 5.4V23.6H26.2" fill="none" stroke="#fff" stroke-width="2.2" stroke-linecap="round" stroke-linejoin="round"/><path d="M11.6 17.8l4.4-5 3 2.8 5-5.6" fill="none" stroke="#fff" stroke-width="2.2" stroke-linecap="round" stroke-linejoin="round"/></svg><div class="t md" style="left:41px;top:6px;line-height:20px;height:20px">Informationssysteme</div></div></div>
<div style="left:0px;top:914px;width:222px;height:23px;overflow:hidden;"><div style="left:0;top:0;width:222px;height:32px;border:1px solid #c3cddd;border-left:none;background:#fff;"></div><div style="left:1px;top:1px;width:220px;height:31px;overflow:hidden"><div style="left:0;top:0;width:32px;height:30px;border-radius:3px;background:linear-gradient(160deg,#bc4684,#ec8cbc);"></div><svg style="left:0;top:0" width="32" height="30" viewBox="0 0 32 30"><path d="M4.6 8.4h22.8v18H4.6z" fill="none" stroke="#fff" stroke-width="2.2"/><path d="M5 9l11 9 11-9" fill="none" stroke="#fff" stroke-width="2.2" stroke-linejoin="round"/></svg><div class="t md" style="left:41px;top:6px;line-height:20px;height:20px">Nachrichtenverwaltung</div></div></div>
<div style="left:0px;top:937px;width:241px;height:35px;background:#f3f3f3;"></div>
<div style="left:2px;top:941px;width:238px;height:24px;background:#fff;"></div>
<svg style="left:6px;top:946px;" width="15" height="15" viewBox="0 0 15 15"><circle cx="9.2" cy="5.8" r="4.6" fill="#e4f2fc" stroke="#8a9ab0" stroke-width="1.1"/><path d="M5.8 9.4 L1 14.2" stroke="#7a8aa0" stroke-width="1.8" stroke-linecap="round"/></svg>
<div class="t " style="left:29px;top:945.00px;line-height:18px;height:18px;font-size:12.6px;color:#3a3a4a;">Suche</div>
<div style="left:243px;top:92px;width:1289px;height:32px;background:#d3d3d3;"></div>
<div style="left:243px;top:92px;width:32px;height:32px;background:linear-gradient(135deg,#6e6e6e,#a8a8a8);border-radius:4px;"></div>
<svg style="left:243px;top:92px;" width="32" height="32" viewBox="0 0 50 50"><g transform="translate(25 26.5) scale(.86) rotate(45) translate(-25 -25)"><path d="M17.2 6.5 H32.8 V9.6 H30.4 V20.6 Q35.4 23 35.4 28.4 H14.6 Q14.6 23 19.6 20.6 V9.6 H17.2 Z" fill="#fff"/><path d="M25 28 V46" stroke="#fff" stroke-width="3.2" stroke-linecap="round"/></g></svg>
<div class="t hd" style="left:285px;top:97.50px;line-height:22px;height:22px;letter-spacing:-.3px;">Anzeige</div>
<div style="left:461px;top:92px;width:1px;height:32px;background:#c6cede;"></div>
<div class="t hd" style="left:471.5px;top:97.50px;line-height:22px;height:22px;">Artikelstamm - Kalkulationsblatt</div>
<div style="left:1014px;top:96px;width:270px;height:24px;background:#fff;border:1px solid #e4e9f0;"></div>
<svg style="left:1017px;top:100px;" width="16" height="16" viewBox="0 0 15 15"><circle cx="9.2" cy="5.8" r="4.6" fill="#e4f2fc" stroke="#8a9ab0" stroke-width="1.1"/><path d="M5.8 9.4 L1 14.2" stroke="#7a8aa0" stroke-width="1.8" stroke-linecap="round"/></svg>
<div class="t " style="left:1041px;top:99.50px;line-height:18px;height:18px;font-size:12.6px;color:#3a3a4a;">Suche</div>
<div class="t l" style="left:251px;top:132.80px;line-height:20px;height:20px;">Mandant.Nr.</div>
<div style="left:371px;top:133px;width:71px;height:19px;background:#eef3fa;border:1px solid #dde6f1;"></div>
<div style="left:371px;top:133px;width:52px;height:19px;background:#fffde1;border:1px solid #f1efd0;"><div class="t v" style="left:3px;top:0;line-height:17px">1</div></div>
<svg style="left:428px;top:136px;" width="10" height="14" viewBox="0 0 10 14"><path d="M1.5 1 L8 7 L1.5 13" fill="none" stroke="#7a7a7a" stroke-width="1.7"/></svg>
<div style="left:444px;top:133px;width:464px;height:20px;background:#fff;border:1px solid #e1e8f1;border-bottom:2px solid #dfe6ee;"></div>
<div style="left:575px;top:135px;width:199px;height:16px;background:#1a8fc9;"></div>
<svg style="left:575px;top:135px;" width="199" height="16" viewBox="0 0 199 16"><rect x="70" y="0" width="32" height="16" fill="#fff"/><g font-family="Liberation Sans" font-weight="700" font-size="18.6"><text x="37" y="14.6" fill="#fff" textLength="33" lengthAdjust="spacingAndGlyphs">SYN</text><text x="71" y="14.6" fill="#1a8fc9" textLength="30" lengthAdjust="spacingAndGlyphs">ERP</text><text x="102.4" y="14.6" fill="#fff" textLength="10.4" lengthAdjust="spacingAndGlyphs">Y</text></g><text x="115" y="14.4" fill="#e8f4fb" font-family="Liberation Sans" font-size="11.6" textLength="47" lengthAdjust="spacingAndGlyphs">seit 2001</text></svg>
<div class="f" style="left:908px;top:132.5px;width:71px;height:20.5px;"><div class="t v" style="left:0;top:0;width:69px;height:17.5px;line-height:17.5px;text-align:right;padding:0 4px;">156</div></div>
<div class="t l" style="left:251px;top:156.80px;line-height:20px;height:20px;">Artikel.Nr.</div>
<div class="f" style="left:371px;top:157px;width:160px;height:20px;"><div class="t v" style="left:0;top:0;width:158px;height:17px;line-height:17px;text-align:left;padding:0 3px;">LICHT2</div></div>
<svg style="left:512px;top:159.5px;" width="15" height="15" viewBox="0 0 15 15"><path d="M1.5 1.2 L7.6 7.5 L1.5 13.8 M7 1.2 L13.1 7.5 L7 13.8" fill="none" stroke="#7a7a7a" stroke-width="1.5"/></svg>
<div class="f" style="left:532px;top:157px;width:19px;height:20px;"><div class="t v" style="left:0;top:0;width:17px;height:17px;line-height:17px;text-align:left;padding:0 4px;">J</div></div>
<div class="t l" style="left:599px;top:156.80px;line-height:20px;height:20px;">PE Eink.</div>
<div class="f" style="left:711px;top:157px;width:60px;height:22px;border-bottom:2px solid #b6d0ec;"><div class="t v" style="left:0;top:0;width:58px;height:17px;line-height:17px;text-align:left;padding:0 3px;">Stk</div></div>
<svg style="left:755px;top:159.5px;" width="10" height="15" viewBox="0 0 10 14"><path d="M1.5 1 L8 7 L1.5 13" fill="none" stroke="#7a7a7a" stroke-width="1.7"/></svg>
<div class="t l" style="left:251px;top:180.80px;line-height:20px;height:20px;">Artikel.Bez.</div>
<div class="f" style="left:371px;top:181.5px;width:400px;height:20px;"><div class="t v" style="left:0;top:0;width:398px;height:17px;line-height:17px;text-align:left;padding:0 3px;">Licht Luxus</div></div>
<div class="t l" style="left:251px;top:205.00px;line-height:20px;height:20px;">Artikel.Bez.2</div>
<div class="f" style="left:371px;top:205px;width:400px;height:20.5px;"></div>
<div class="t l" style="left:787px;top:181.00px;line-height:20px;height:20px;">Preis</div>
<div class="f" style="left:908px;top:181px;width:79px;height:22px;border-bottom:2px solid #b6d0ec;"><div class="t v" style="left:0;top:0;width:77px;height:18px;line-height:18px;text-align:right;padding:0 3px;">1.393,97500</div></div>
<div class="t l" style="left:991px;top:181.00px;line-height:20px;height:20px;">EUR</div>
<div class="t l" style="left:1023px;top:181.00px;line-height:20px;height:20px;">Preisverwendung</div>
<div class="f" style="left:1155px;top:181px;width:20px;height:22px;border-bottom:2px solid #b6d0ec;"><div class="t v" style="left:0;top:0;width:18px;height:18px;line-height:18px;text-align:center;padding:0 0px;">A</div></div>
<div style="left:1176.5px;top:182px;width:17px;height:19px;background:#e3e3e3;border:1px solid #b4b4b4;border-radius:5px;"><div class="t v" style="left:0;top:-2px;width:15px;text-align:center;line-height:17px;">...</div></div>
<div class="t l" style="left:1219px;top:181.00px;line-height:20px;height:20px;">Wieder.besch.zt.</div>
<div class="f" style="left:1331px;top:181px;width:40px;height:21px;"><div class="t v" style="left:0;top:0;width:38px;height:18px;line-height:18px;text-align:right;padding:0 4px;">0</div></div>
<div class="t l" style="left:1375px;top:181.00px;line-height:20px;height:20px;">Tg.</div>
<div class="t l" style="left:787px;top:205.00px;line-height:20px;height:20px;">statistischer Wert</div>
<div class="fw" style="left:908px;top:205px;width:79px;height:21px;"><div class="t v k" style="left:0;top:0;width:77px;height:18px;line-height:18px;text-align:right;padding:0 3px;">0,00000</div></div>
<div class="t l" style="left:991px;top:205.00px;line-height:20px;height:20px;">EUR</div>
<div class="t l" style="left:1023px;top:205.00px;line-height:20px;height:20px;">Artikel-Fert.Kz</div>
<div class="f" style="left:1155px;top:205px;width:20px;height:21px;"><div class="t v" style="left:0;top:0;width:18px;height:18px;line-height:18px;text-align:center;padding:0 0px;">J</div></div>
<div class="t l" style="left:1219px;top:205.00px;line-height:20px;height:20px;">Vorgabe verwenden</div>
<div class="fw" style="left:1351px;top:205px;width:20px;height:23px;border-bottom:2px solid #b6d0ec;"><div class="t v k" style="left:0;top:0;width:18px;height:19px;line-height:19px;text-align:center;padding:0 0px;">N</div></div>
<div style="left:250px;top:232px;width:42px;height:22px;background:#1a8fc9;border-radius:4px 4px 0 0;"><div class="t" style="left:0;top:0;width:42px;text-align:center;line-height:21px;font-size:10.7px;color:#fff;"><u>1</u>. Plan</div></div>
<div style="left:303px;top:233px;width:145px;height:22px;background:#fff;border:1px solid #c9d3e0;border-bottom:none;border-radius:6px 6px 0 0;"><div class="t" style="left:0;top:0;width:143px;text-align:center;line-height:19px;font-size:10.9px;color:#2a2a3a;"><u>2</u>. Letzter Ist &amp; Durchschnitt</div></div>
<div style="left:459px;top:233px;width:107px;height:22px;background:#fff;border:1px solid #c9d3e0;border-bottom:none;border-radius:6px 6px 0 0;"><div class="t" style="left:0;top:0;width:105px;text-align:center;line-height:19px;font-size:10.8px;color:#2a2a3a;"><u>3</u>. CO2e Emissionen</div></div>
<div style="left:248px;top:257px;width:1178px;height:482px;border:1px solid #c5cfdd;background:#fff;"></div>
<div class="t l" style="left:499px;top:262.00px;line-height:20px;height:20px;">Arb.Plan</div>
<div class="t l" style="left:587px;top:262.00px;line-height:20px;height:20px;">StckL.</div>
<div class="t l" style="left:675px;top:262.00px;line-height:20px;height:20px;">Einkauf</div>
<div class="t l" style="left:763px;top:262.00px;line-height:20px;height:20px;">Vorgabe</div>
<div class="t l" style="left:267px;top:282.00px;line-height:20px;height:20px;letter-spacing:0.026px;">Datum</div>
<div class="f" style="left:499px;top:281px;width:60px;height:23px;border-bottom:2px solid #b6d0ec;"><div class="t v" style="left:0;top:0;width:58px;height:19px;line-height:19px;text-align:left;padding:0 3px;">13.12.2020</div></div>
<div class="f" style="left:587px;top:281px;width:60px;height:23px;border-bottom:2px solid #b6d0ec;"><div class="t v" style="left:0;top:0;width:58px;height:19px;line-height:19px;text-align:left;padding:0 3px;">06.09.2012</div></div>
<div class="f" style="left:675px;top:281px;width:60px;height:23px;border-bottom:2px solid #b6d0ec;"></div>
<div class="f" style="left:763px;top:281px;width:60px;height:23px;border-bottom:2px solid #b6d0ec;"></div>
<div class="t l" style="left:267px;top:306.00px;line-height:20px;height:20px;letter-spacing:0.158px;">Materialkosten</div>
<div class="t v" style="left:439px;top:304.80px;line-height:20px;height:20px;">EUR / Stk</div>
<div class="f" style="left:499px;top:305px;width:80px;height:23px;border-bottom:2px solid #b6d0ec;"><div class="t v" style="left:0;top:0;width:78px;height:19px;line-height:19px;text-align:right;padding:0 3px;">1.320,00000</div></div>
<div class="f" style="left:587px;top:305px;width:80px;height:23px;border-bottom:2px solid #b6d0ec;"><div class="t v" style="left:0;top:0;width:78px;height:19px;line-height:19px;text-align:right;padding:0 3px;">1.320,00000</div></div>
<div class="f" style="left:675px;top:305px;width:80px;height:23px;border-bottom:2px solid #b6d0ec;"><div class="t v" style="left:0;top:0;width:78px;height:19px;line-height:19px;text-align:right;padding:0 3px;">0,00000</div></div>
<div class="f" style="left:763px;top:305px;width:80px;height:22px;"><div class="t v" style="left:0;top:0;width:78px;height:19px;line-height:19px;text-align:right;padding:0 3px;">0,00000</div></div>
<div class="t l" style="left:267px;top:330.00px;line-height:20px;height:20px;letter-spacing:0.161px;">Fremdfertigungskosten</div>
<div class="t v" style="left:439px;top:328.80px;line-height:20px;height:20px;">EUR / Stk</div>
<div class="f" style="left:499px;top:329px;width:80px;height:22px;"><div class="t v" style="left:0;top:0;width:78px;height:19px;line-height:19px;text-align:right;padding:0 3px;">0,00000</div></div>
<div class="f" style="left:587px;top:329px;width:80px;height:22px;"><div class="t v" style="left:0;top:0;width:78px;height:19px;line-height:19px;text-align:right;padding:0 3px;">0,00000</div></div>
<div class="f" style="left:675px;top:329px;width:80px;height:22px;"><div class="t v" style="left:0;top:0;width:78px;height:19px;line-height:19px;text-align:right;padding:0 3px;">0,00000</div></div>
<div class="f" style="left:763px;top:329px;width:80px;height:22px;"><div class="t v" style="left:0;top:0;width:78px;height:19px;line-height:19px;text-align:right;padding:0 3px;">0,00000</div></div>
<div class="t l" style="left:267px;top:354.00px;line-height:20px;height:20px;letter-spacing:0.128px;">Anpassungsfaktor</div>
<div class="fw" style="left:499px;top:353px;width:80px;height:22px;"><div class="t v k" style="left:0;top:0;width:78px;height:19px;line-height:19px;text-align:right;padding:0 3px;">0,00</div></div>
<div class="fw" style="left:587px;top:353px;width:80px;height:22px;"><div class="t v k" style="left:0;top:0;width:78px;height:19px;line-height:19px;text-align:right;padding:0 3px;">0,00</div></div>
<div class="fw" style="left:675px;top:353px;width:80px;height:22px;"><div class="t v k" style="left:0;top:0;width:78px;height:19px;line-height:19px;text-align:right;padding:0 3px;">0,00</div></div>
<div class="f" style="left:763px;top:353px;width:80px;height:22px;"><div class="t v" style="left:0;top:0;width:78px;height:19px;line-height:19px;text-align:right;padding:0 3px;">0,00</div></div>
<div class="t l" style="left:267px;top:378.00px;line-height:20px;height:20px;letter-spacing:0.115px;">Materialgemeinkosten</div>
<div class="t v" style="left:439px;top:376.80px;line-height:20px;height:20px;">EUR / Stk</div>
<div class="f" style="left:499px;top:377px;width:80px;height:22px;"><div class="t v" style="left:0;top:0;width:78px;height:19px;line-height:19px;text-align:right;padding:0 3px;">0,00000</div></div>
<div class="f" style="left:587px;top:377px;width:80px;height:22px;"><div class="t v" style="left:0;top:0;width:78px;height:19px;line-height:19px;text-align:right;padding:0 3px;">0,00000</div></div>
<div class="f" style="left:675px;top:377px;width:80px;height:22px;"><div class="t v" style="left:0;top:0;width:78px;height:19px;line-height:19px;text-align:right;padding:0 3px;">0,00000</div></div>
<div class="f" style="left:763px;top:377px;width:80px;height:22px;"><div class="t v" style="left:0;top:0;width:78px;height:19px;line-height:19px;text-align:right;padding:0 3px;">0,00000</div></div>
<div class="t l" style="left:267px;top:402.00px;line-height:20px;height:20px;letter-spacing:-0.137px;">Summe Material</div>
<div class="t v" style="left:439px;top:400.80px;line-height:20px;height:20px;">EUR / Stk</div>
<div class="f" style="left:499px;top:401px;width:80px;height:23px;border-bottom:2px solid #b6d0ec;"><div class="t v" style="left:0;top:0;width:78px;height:19px;line-height:19px;text-align:right;padding:0 3px;">1.320,00000</div></div>
<div class="f" style="left:587px;top:401px;width:80px;height:23px;border-bottom:2px solid #b6d0ec;"><div class="t v" style="left:0;top:0;width:78px;height:19px;line-height:19px;text-align:right;padding:0 3px;">1.320,00000</div></div>
<div class="f" style="left:675px;top:401px;width:80px;height:23px;border-bottom:2px solid #b6d0ec;"><div class="t v" style="left:0;top:0;width:78px;height:19px;line-height:19px;text-align:right;padding:0 3px;">0,00000</div></div>
<div class="f" style="left:763px;top:401px;width:80px;height:22px;"><div class="t v" style="left:0;top:0;width:78px;height:19px;line-height:19px;text-align:right;padding:0 3px;">0,00000</div></div>
<div class="t l" style="left:267px;top:426.00px;line-height:20px;height:20px;letter-spacing:0.133px;">Lohnkosten</div>
<div class="t v" style="left:439px;top:424.80px;line-height:20px;height:20px;">EUR / Stk</div>
<div class="f" style="left:499px;top:425px;width:80px;height:23px;border-bottom:2px solid #b6d0ec;"><div class="t v" style="left:0;top:0;width:78px;height:19px;line-height:19px;text-align:right;padding:0 3px;">19,75000</div></div>
<div class="f" style="left:587px;top:425px;width:80px;height:23px;border-bottom:2px solid #b6d0ec;"><div class="t v" style="left:0;top:0;width:78px;height:19px;line-height:19px;text-align:right;padding:0 3px;">0,00000</div></div>
<div class="f" style="left:675px;top:425px;width:80px;height:22px;"><div class="t v" style="left:0;top:0;width:78px;height:19px;line-height:19px;text-align:right;padding:0 3px;">0,00000</div></div>
<div class="f" style="left:763px;top:425px;width:80px;height:22px;"><div class="t v" style="left:0;top:0;width:78px;height:19px;line-height:19px;text-align:right;padding:0 3px;">0,00000</div></div>
<div class="t l" style="left:267px;top:450.00px;line-height:20px;height:20px;letter-spacing:0.088px;">Lohngemeinkosten</div>
<div class="t v" style="left:439px;top:448.80px;line-height:20px;height:20px;">EUR / Stk</div>
<div class="f" style="left:499px;top:449px;width:80px;height:23px;border-bottom:2px solid #b6d0ec;"><div class="t v" style="left:0;top:0;width:78px;height:19px;line-height:19px;text-align:right;padding:0 3px;">1,97500</div></div>
<div class="f" style="left:587px;top:449px;width:80px;height:22px;"><div class="t v" style="left:0;top:0;width:78px;height:19px;line-height:19px;text-align:right;padding:0 3px;">0,00000</div></div>
<div class="f" style="left:675px;top:449px;width:80px;height:22px;"><div class="t v" style="left:0;top:0;width:78px;height:19px;line-height:19px;text-align:right;padding:0 3px;">0,00000</div></div>
<div class="f" style="left:763px;top:449px;width:80px;height:22px;"><div class="t v" style="left:0;top:0;width:78px;height:19px;line-height:19px;text-align:right;padding:0 3px;">0,00000</div></div>
<div class="t l" style="left:267px;top:474.00px;line-height:20px;height:20px;letter-spacing:-0.087px;">Summe Lohnkosten</div>
<div class="t v" style="left:439px;top:472.80px;line-height:20px;height:20px;">EUR / Stk</div>
<div class="f" style="left:499px;top:473px;width:80px;height:23px;border-bottom:2px solid #b6d0ec;"><div class="t v" style="left:0;top:0;width:78px;height:19px;line-height:19px;text-align:right;padding:0 3px;">21,72500</div></div>
<div class="f" style="left:587px;top:473px;width:80px;height:23px;border-bottom:2px solid #b6d0ec;"><div class="t v" style="left:0;top:0;width:78px;height:19px;line-height:19px;text-align:right;padding:0 3px;">0,00000</div></div>
<div class="f" style="left:675px;top:473px;width:80px;height:22px;"><div class="t v" style="left:0;top:0;width:78px;height:19px;line-height:19px;text-align:right;padding:0 3px;">0,00000</div></div>
<div class="f" style="left:763px;top:473px;width:80px;height:22px;"><div class="t v" style="left:0;top:0;width:78px;height:19px;line-height:19px;text-align:right;padding:0 3px;">0,00000</div></div>
<div class="t l" style="left:267px;top:498.00px;line-height:20px;height:20px;letter-spacing:0.093px;">Maschinenkosten</div>
<div class="t v" style="left:439px;top:496.80px;line-height:20px;height:20px;">EUR / Stk</div>
<div class="f" style="left:499px;top:497px;width:80px;height:23px;border-bottom:2px solid #b6d0ec;"><div class="t v" style="left:0;top:0;width:78px;height:19px;line-height:19px;text-align:right;padding:0 3px;">52,25000</div></div>
<div class="f" style="left:587px;top:497px;width:80px;height:22px;"><div class="t v" style="left:0;top:0;width:78px;height:19px;line-height:19px;text-align:right;padding:0 3px;">0,00000</div></div>
<div class="f" style="left:675px;top:497px;width:80px;height:22px;"><div class="t v" style="left:0;top:0;width:78px;height:19px;line-height:19px;text-align:right;padding:0 3px;">0,00000</div></div>
<div class="f" style="left:763px;top:497px;width:80px;height:22px;"><div class="t v" style="left:0;top:0;width:78px;height:19px;line-height:19px;text-align:right;padding:0 3px;">0,00000</div></div>
<div class="t l" style="left:267px;top:522.00px;line-height:20px;height:20px;letter-spacing:0.085px;">Maschinengemeinkosten</div>
<div class="t v" style="left:439px;top:520.80px;line-height:20px;height:20px;">EUR / Stk</div>
<div class="f" style="left:499px;top:521px;width:80px;height:23px;border-bottom:2px solid #b6d0ec;"><div class="t v" style="left:0;top:0;width:78px;height:19px;line-height:19px;text-align:right;padding:0 3px;">0,00000</div></div>
<div class="f" style="left:587px;top:521px;width:80px;height:22px;"><div class="t v" style="left:0;top:0;width:78px;height:19px;line-height:19px;text-align:right;padding:0 3px;">0,00000</div></div>
<div class="f" style="left:675px;top:521px;width:80px;height:22px;"><div class="t v" style="left:0;top:0;width:78px;height:19px;line-height:19px;text-align:right;padding:0 3px;">0,00000</div></div>
<div class="f" style="left:763px;top:521px;width:80px;height:22px;"><div class="t v" style="left:0;top:0;width:78px;height:19px;line-height:19px;text-align:right;padding:0 3px;">0,00000</div></div>
<div class="t l" style="left:267px;top:546.00px;line-height:20px;height:20px;letter-spacing:-0.077px;">Summe Maschinenkosten</div>
<div class="t v" style="left:439px;top:544.80px;line-height:20px;height:20px;">EUR / Stk</div>
<div class="f" style="left:499px;top:545px;width:80px;height:23px;border-bottom:2px solid #b6d0ec;"><div class="t v" style="left:0;top:0;width:78px;height:19px;line-height:19px;text-align:right;padding:0 3px;">52,25000</div></div>
<div class="f" style="left:587px;top:545px;width:80px;height:23px;border-bottom:2px solid #b6d0ec;"><div class="t v" style="left:0;top:0;width:78px;height:19px;line-height:19px;text-align:right;padding:0 3px;">0,00000</div></div>
<div class="f" style="left:675px;top:545px;width:80px;height:22px;"><div class="t v" style="left:0;top:0;width:78px;height:19px;line-height:19px;text-align:right;padding:0 3px;">0,00000</div></div>
<div class="f" style="left:763px;top:545px;width:80px;height:22px;"><div class="t v" style="left:0;top:0;width:78px;height:19px;line-height:19px;text-align:right;padding:0 3px;">0,00000</div></div>
<div class="t l" style="left:267px;top:570.00px;line-height:20px;height:20px;letter-spacing:-0.034px;">Summe Fertigung</div>
<div class="t v" style="left:439px;top:568.80px;line-height:20px;height:20px;">EUR / Stk</div>
<div class="f" style="left:499px;top:569px;width:80px;height:23px;border-bottom:2px solid #b6d0ec;"><div class="t v" style="left:0;top:0;width:78px;height:19px;line-height:19px;text-align:right;padding:0 3px;">73,97500</div></div>
<div class="f" style="left:587px;top:569px;width:80px;height:23px;border-bottom:2px solid #b6d0ec;"><div class="t v" style="left:0;top:0;width:78px;height:19px;line-height:19px;text-align:right;padding:0 3px;">0,00000</div></div>
<div class="f" style="left:675px;top:569px;width:80px;height:22px;"><div class="t v" style="left:0;top:0;width:78px;height:19px;line-height:19px;text-align:right;padding:0 3px;">0,00000</div></div>
<div class="f" style="left:763px;top:569px;width:80px;height:22px;"><div class="t v" style="left:0;top:0;width:78px;height:19px;line-height:19px;text-align:right;padding:0 3px;">0,00000</div></div>
<div class="t l" style="left:267px;top:594.00px;line-height:20px;height:20px;letter-spacing:-0.432px;">Summe Gesamt</div>
<div class="t v" style="left:439px;top:592.80px;line-height:20px;height:20px;">EUR / Stk</div>
<div class="f" style="left:499px;top:593px;width:80px;height:23px;border-bottom:2px solid #b6d0ec;"><div class="t v" style="left:0;top:0;width:78px;height:19px;line-height:19px;text-align:right;padding:0 3px;">1.393,97500</div></div>
<div class="f" style="left:587px;top:593px;width:80px;height:23px;border-bottom:2px solid #b6d0ec;"><div class="t v" style="left:0;top:0;width:78px;height:19px;line-height:19px;text-align:right;padding:0 3px;">1.320,00000</div></div>
<div class="f" style="left:675px;top:593px;width:80px;height:23px;border-bottom:2px solid #b6d0ec;"><div class="t v" style="left:0;top:0;width:78px;height:19px;line-height:19px;text-align:right;padding:0 3px;">0,00000</div></div>
<div class="f" style="left:763px;top:593px;width:80px;height:22px;"><div class="t v" style="left:0;top:0;width:78px;height:19px;line-height:19px;text-align:right;padding:0 3px;">0,00000</div></div>
<div class="t l" style="left:267px;top:618.00px;line-height:20px;height:20px;letter-spacing:0.112px;">Abweichung von Vorgabe</div>
<div class="f" style="left:499px;top:617px;width:72px;height:23px;border-bottom:2px solid #b6d0ec;"><div class="t v" style="left:0;top:0;width:70px;height:19px;line-height:19px;text-align:right;padding:0 2px;">100,00</div></div>
<div class="t v" style="left:571.5px;top:618.00px;line-height:20px;height:20px;">%</div>
<div class="f" style="left:587px;top:617px;width:72px;height:23px;border-bottom:2px solid #b6d0ec;"><div class="t v" style="left:0;top:0;width:70px;height:19px;line-height:19px;text-align:right;padding:0 2px;">100,00</div></div>
<div class="t v" style="left:659.5px;top:618.00px;line-height:20px;height:20px;">%</div>
<div class="f" style="left:675px;top:617px;width:72px;height:23px;border-bottom:2px solid #b6d0ec;"><div class="t v" style="left:0;top:0;width:70px;height:19px;line-height:19px;text-align:right;padding:0 2px;">0,00</div></div>
<div class="t v" style="left:747.5px;top:618.00px;line-height:20px;height:20px;">%</div>
<div class="t l" style="left:267px;top:642.00px;line-height:20px;height:20px;letter-spacing:-0.288px;">Summe Gesamt ohne MGK</div>
<div class="t v" style="left:439px;top:640.80px;line-height:20px;height:20px;">EUR / Stk</div>
<div class="f" style="left:499px;top:641px;width:80px;height:23px;border-bottom:2px solid #b6d0ec;"></div>
<div class="f" style="left:587px;top:641px;width:80px;height:23px;border-bottom:2px solid #b6d0ec;"></div>
<div class="f" style="left:675px;top:641px;width:80px;height:23px;border-bottom:2px solid #b6d0ec;"></div>
<div class="f" style="left:763px;top:641px;width:80px;height:22px;"></div>
<div class="t l" style="left:267px;top:666.00px;line-height:20px;height:20px;letter-spacing:-0.147px;">Summe statistischer Kosten</div>
<div class="t v" style="left:439px;top:664.80px;line-height:20px;height:20px;">EUR / Stk</div>
<div class="f" style="left:499px;top:665px;width:80px;height:22px;"><div class="t v" style="left:0;top:0;width:78px;height:19px;line-height:19px;text-align:right;padding:0 3px;">0,00000</div></div>
<div class="f" style="left:587px;top:665px;width:80px;height:22px;"><div class="t v" style="left:0;top:0;width:78px;height:19px;line-height:19px;text-align:right;padding:0 3px;">0,00000</div></div>
<div class="f" style="left:763px;top:665px;width:80px;height:22px;"></div>
<div class="t l" style="left:267px;top:689.00px;line-height:20px;height:20px;letter-spacing:-0.211px;">Losgröße</div>
<div class="f" style="left:499px;top:688px;width:80px;height:22px;"><div class="t v" style="left:0;top:0;width:78px;height:19px;line-height:19px;text-align:right;padding:0 3px;">1,0000</div></div>
<div style="left:859px;top:272px;width:552px;height:176px;border:1px solid #c9d2df;background:#fff;"></div>
<div style="left:859px;top:307px;width:552px;height:2px;background:#ccd5e1;"></div>
<div style="left:859px;top:387px;width:552px;height:2px;background:#ccd5e1;"></div>
<div class="t l" style="left:867.5px;top:281.00px;line-height:20px;height:20px;">Lieferant.Nr.</div>
<div class="f" style="left:987px;top:280px;width:120px;height:24px;border-bottom:2px solid #b6d0ec;"></div>
<svg style="left:1092px;top:284px;" width="10" height="16" viewBox="0 0 10 16"><path d="M1.5 1 L8.5 8 L1.5 15" fill="none" stroke="#7a7a7a" stroke-width="1.7"/></svg>
<div class="f" style="left:1108px;top:281px;width:299px;height:21px;"></div>
<div class="t l" style="left:867.5px;top:313.00px;line-height:20px;height:20px;">EU-Anteil</div>
<div class="f" style="left:987px;top:312px;width:72px;height:23px;border-bottom:2px solid #b6d0ec;"><div class="t v" style="left:0;top:0;width:70px;height:19px;line-height:19px;text-align:right;padding:0 3px;">100,00</div></div>
<div class="t v" style="left:1063px;top:313.00px;line-height:20px;height:20px;">%</div>
<div class="t l" style="left:867.5px;top:337.00px;line-height:20px;height:20px;">VmU / AWP</div>
<div class="f" style="left:987px;top:337px;width:72px;height:21px;"></div>
<div class="t v" style="left:1063px;top:337.00px;line-height:20px;height:20px;">%</div>
<div class="t l" style="left:867.5px;top:361.00px;line-height:20px;height:20px;">VoU / AWP</div>
<div class="f" style="left:987px;top:361px;width:72px;height:21px;"></div>
<div class="t v" style="left:1063px;top:361.00px;line-height:20px;height:20px;">%</div>
<div class="t l" style="left:867.5px;top:393.00px;line-height:20px;height:20px;">VK-Grundlage</div>
<div class="fw" style="left:987px;top:392px;width:80px;height:22px;"><div class="t v k" style="left:0;top:0;width:78px;height:19px;line-height:19px;text-align:right;padding:0 34.5px;">0</div></div>
<div class="t l" style="left:867.5px;top:417.00px;line-height:20px;height:20px;">Geändert von</div>
<div class="f" style="left:987px;top:416px;width:80px;height:23px;border-bottom:2px solid #b6d0ec;"></div>
<div style="left:243px;top:766px;width:1289px;height:2px;background:#c9d3e2;"></div>
<div class="t l" style="left:807px;top:769.00px;line-height:20px;height:20px;">Verwendete Suchbedingungen</div>
<div style="left:244.5px;top:792px;width:1287.5px;height:18.5px;background:#e7eef7;"></div>
<div class="t l" style="left:260px;top:791.50px;line-height:20px;height:20px;color:#42205e;">ID</div>
<div class="t l" style="left:332px;top:791.50px;line-height:20px;height:20px;color:#42205e;">Mandant.Nr.</div>
<div class="t l" style="left:412px;top:791.50px;line-height:20px;height:20px;color:#42205e;">Artikel.Nr.</div>
<div class="t l" style="left:572px;top:791.50px;line-height:20px;height:20px;color:#42205e;">Artikel.Bez.</div>
<div class="t l" style="left:732px;top:791.50px;line-height:20px;height:20px;color:#42205e;">Artikel.Bez.2</div>
<div class="t l" style="left:892px;top:791.50px;line-height:20px;height:20px;color:#42205e;">Preis</div>
<div class="t l" style="left:972px;top:791.50px;line-height:20px;height:20px;color:#42205e;">EU-Anteil</div>
<div style="left:257px;top:810px;width:1275px;height:18px;border:1px solid #c5cfdd;border-right:none;background:#fff;"></div>
<svg style="left:247.6px;top:810.4px;" width="7.5" height="13" viewBox="0 0 7 11"><path d="M.3 .2 L6.6 5.5 L.3 10.8 Z" fill="#000"/></svg>
<div class="t g" style="left:266px;top:809.50px;line-height:20px;height:20px;width:60px;text-align:right;">156</div>
<div class="t g" style="left:332px;top:809.50px;line-height:20px;height:20px;">1</div>
<div class="t g" style="left:412px;top:809.50px;line-height:20px;height:20px;letter-spacing:-.4px;">LICHT2</div>
<div class="t g" style="left:572px;top:809.50px;line-height:20px;height:20px;">Licht Luxus</div>
<div class="t g" style="left:886px;top:809.50px;line-height:20px;height:20px;width:80px;text-align:right;">1.393,97500</div>
<div class="t g" style="left:1005.5px;top:809.50px;line-height:20px;height:20px;">100,00</div>
<div style="left:244.5px;top:862px;width:1287.5px;height:18px;background:#f0f0f0;"></div>
<div style="left:262px;top:869.3px;width:17px;height:2px;background:#707070;"></div>
<div style="left:243px;top:880px;width:1289px;height:2px;background:#bccadc;"></div>
<div style="left:243px;top:883px;width:122px;height:17.5px;background:#d6d6d6;"><div class="t bt" style="left:7px;top:0;line-height:19px;font-size:11.3px;letter-spacing:-0.281px;">Artikelstamm (LICHT2)</div></div>
<div style="left:370px;top:883px;width:204px;height:17.5px;background:#d6d6d6;"><div class="t bt" style="left:7px;top:0;line-height:19px;font-size:11.3px;letter-spacing:0.075px;">Artikelstamm - Kalkulationsblatt (156)</div></div>
<div style="left:578px;top:883px;width:104px;height:17.5px;background:#d6d6d6;"><div class="t bt" style="left:7px;top:0;line-height:19px;font-size:11.3px;letter-spacing:0.277px;">Kalkulationsblatt</div></div>
<div style="left:243px;top:902.5px;width:156.5px;height:17.5px;background:#c6dad6;"><div class="t bt" style="left:7px;top:0;line-height:17.6px;font-size:11.3px;letter-spacing:0.068px;">Kundenrechnungen (Suche)</div></div>
<div style="left:243px;top:921.5px;width:198px;height:17.5px;background:#c6dad6;"><div class="t bt" style="left:7px;top:0;line-height:17.6px;font-size:11.3px;letter-spacing:-0.056px;">Kundenlieferscheine (2 - 050000001)</div></div>
<div style="left:243px;top:940.5px;width:198px;height:17.5px;background:#c6dad6;"><div class="t bt" style="left:7px;top:0;line-height:17.6px;font-size:11.3px;letter-spacing:-0.056px;">Kundenlieferscheine (2 - 050000001)</div></div>
<div style="left:243px;top:959.5px;width:242.5px;height:17.5px;background:#c6dad6;"><div class="t bt" style="left:7px;top:0;line-height:17.6px;font-size:11.3px;letter-spacing:0.106px;">Angebots- u. Auftragsverwaltung (60524003)</div></div>
<div style="left:1531px;top:92px;width:2px;height:880px;background:linear-gradient(90deg,#c9d1dc,#dfe5ee);"></div>
<div style="left:1534px;top:93px;width:32px;height:30px;background:linear-gradient(135deg,#b2ac46,#ebe77f);border-radius:3.5px;"></div>
<svg style="left:1534px;top:93px;" width="32" height="30" viewBox="0 0 32 30"><rect x="10" y="5" width="12" height="3.4" rx=".7" fill="#fff"/><path d="M7.4 11.2 H24.6 Q26.6 11.2 26.6 13.2 V19.6 Q26.6 21.2 25 21.2 H22.6 V17 H9.4 V21.2 H7 Q5.4 21.2 5.4 19.6 V13.2 Q5.4 11.2 7.4 11.2 Z" fill="#fff"/><circle cx="23.4" cy="14" r="1" fill="#cfc95e"/><path d="M10.6 18.2 H21.4 V24.6 Q21.4 25.6 20.4 25.6 H11.6 Q10.6 25.6 10.6 24.6 Z" fill="#fff"/><rect x="12.4" y="19.4" width="7.2" height="4" fill="#c9c352"/></svg>
<div class="t " style="left:1640px;top:99.00px;line-height:18px;height:18px;width:200px;text-align:center;font-size:12.3px;font-weight:700;color:#1b1b33;">Drucken</div>
<div style="left:1535px;top:125px;width:32px;height:32px;background:linear-gradient(135deg,#06569a,#18aac6);border-radius:3.5px;"></div>
<svg style="left:1535px;top:126px;" width="32" height="30" viewBox="0 0 32 30"><path d="M16 4.6 L19.4 12 L27.4 12.8 L21.4 18.2 L23.2 26.2 L16 22.2 L8.8 26.2 L10.6 18.2 L4.6 12.8 L12.6 12 Z" transform="translate(16 15.8) scale(.87) translate(-16 -15.4)" fill="#fff" stroke="#fff" stroke-width="1.4" stroke-linejoin="round"/></svg>
<div style="left:1571px;top:125px;width:32px;height:32px;background:linear-gradient(135deg,#46766a,#80b09c);border-radius:3.5px;"></div>
<svg style="left:1571px;top:126px;" width="32" height="30" viewBox="0 0 32 30"><rect x="13" y="6.6" width="6.4" height="6" rx=".8" fill="#fff"/><path d="M16.2 12.4V20M7.6 20V16.4H24.8V20" fill="none" stroke="#fff" stroke-width="1.7"/><rect x="4.4" y="19.6" width="6.4" height="6" rx=".8" fill="#fff"/><rect x="13" y="19.6" width="6.4" height="6" rx=".8" fill="#fff"/><rect x="21.6" y="19.6" width="6.4" height="6" rx=".8" fill="#fff"/></svg>
<div style="left:1607px;top:125px;width:32px;height:32px;background:linear-gradient(135deg,#9a3c74,#e684bc);border-radius:3.5px;"></div>
<svg style="left:1607px;top:126px;" width="32" height="30" viewBox="0 0 32 30"><g fill="none" stroke="#fff"><circle cx="10.2" cy="12.6" r="2.45" stroke-width="3.19"/><circle cx="10.2" cy="12.6" r="4.29" stroke-width="1.96" stroke-dasharray="2.24 2.24"/></g><g fill="none" stroke="#fff"><circle cx="21.4" cy="10" r="2.45" stroke-width="3.19"/><circle cx="21.4" cy="10" r="4.29" stroke-width="1.96" stroke-dasharray="2.24 2.24"/></g><g fill="none" stroke="#fff"><circle cx="17.8" cy="21.4" r="2.45" stroke-width="3.19"/><circle cx="17.8" cy="21.4" r="4.29" stroke-width="1.96" stroke-dasharray="2.24 2.24"/></g></svg>
<div style="left:1643px;top:125px;width:32px;height:32px;background:linear-gradient(135deg,#b2ac46,#ebe77f);border-radius:3.5px;"></div>
<svg style="left:1643px;top:126px;" width="32" height="30" viewBox="0 0 32 30"><rect x="10" y="5" width="12" height="3.4" rx=".7" fill="#fff"/><path d="M7.4 11.2 H24.6 Q26.6 11.2 26.6 13.2 V19.6 Q26.6 21.2 25 21.2 H22.6 V17 H9.4 V21.2 H7 Q5.4 21.2 5.4 19.6 V13.2 Q5.4 11.2 7.4 11.2 Z" fill="#fff"/><circle cx="23.4" cy="14" r="1" fill="#cfc95e"/><path d="M10.6 18.2 H21.4 V24.6 Q21.4 25.6 20.4 25.6 H11.6 Q10.6 25.6 10.6 24.6 Z" fill="#fff"/><rect x="12.4" y="19.4" width="7.2" height="4" fill="#c9c352"/></svg>
<div style="left:1679px;top:125px;width:32px;height:32px;background:linear-gradient(135deg,#76467a,#dca4c4);border-radius:3.5px;"></div>
<svg style="left:1679px;top:126px;" width="32" height="30" viewBox="0 0 32 30"><path d="M5.6 15.4 Q7 6.2 11.2 4.6 H20.8 Q25 6.2 26.4 15.4 Z" fill="#fff" transform="translate(0,1.2)"/><path d="M6 19V22H26V19M6 25V28H26V25" fill="none" stroke="#fff" stroke-width="1.7" transform="translate(0,-.6)"/></svg>
<div style="left:1715px;top:125px;width:32px;height:32px;background:linear-gradient(135deg,#76966a,#b4cca4);border-radius:3.5px;"></div>
<svg style="left:1715px;top:126px;" width="32" height="30" viewBox="0 0 32 30"><path d="M8.4 11 A9.6 9.6 0 1 1 7 18.4" fill="none" stroke="#fff" stroke-width="2.2" stroke-linecap="round"/><path d="M4.8 6.2 L5.8 13.8 L12.8 11.6 Z" fill="#fff"/><path d="M16.4 9.6v6.4l3 3.6" fill="none" stroke="#fff" stroke-width="2" stroke-linecap="round"/></svg>
<div style="left:1751px;top:125px;width:32px;height:32px;background:linear-gradient(135deg,#46566c,#8ea4bc);border-radius:3.5px;"></div>
<svg style="left:1751px;top:126px;" width="32" height="30" viewBox="0 0 32 30"><path d="M10.6 5.4h10.8v3h4.2q-.4 3.4-4.2 4.6v1.4h4.2q-.4 3.4-4.2 4.6v1h4.2q-.6 3.2-4.2 4.4v1.400H10.600v-1.400q-3.600-1.200-4.200-4.400h4.200v-1q-3.800-1.200-4.200-4.600h4.200v-1.400q-3.800-1.200-4.200-4.600h4.200z" fill="#fff"/><circle cx="16" cy="9.600" r="1.9" fill="#5e7088"/><circle cx="16" cy="15.400" r="1.9" fill="#5e7088"/><circle cx="16" cy="21.200" r="1.9" fill="#5e7088"/></svg>
<div style="left:1787px;top:125px;width:32px;height:32px;background:linear-gradient(135deg,#466a84,#8cbccc);border-radius:3.5px;"></div>
<svg style="left:1787px;top:126px;" width="32" height="30" viewBox="0 0 32 30"><path d="M5.6 10.4 H20.400 Q21.600 10.400 21.600 11.600 V22 Q21.600 23.200 20.400 23.200 H9.400 L5.600 26.200 Z" fill="#fff" stroke="#fff" stroke-width="1.200" stroke-linejoin="round"/><path d="M10.400 6.200 H24.800 Q26 6.200 26 7.400 V18.600" fill="none" stroke="#fff" stroke-width="1.600" stroke-linecap="round"/></svg>
<div style="left:1823px;top:125px;width:32px;height:32px;background:linear-gradient(135deg,#9c4646,#dc8e8c);border-radius:3.5px;"></div>
<svg style="left:1823px;top:126px;" width="32" height="30" viewBox="0 0 32 30"><path d="M25.800 8.600 L22.200 12.200 L19.400 9.400 L23 5.800 Q19.400 4.800 17 7.200 Q14.800 9.600 15.800 12.600 L6.400 22 Q5 23.600 6.400 25.200 Q8 26.600 9.600 25.200 L19 15.800 Q22 16.800 24.400 14.600 Q26.800 12.200 25.800 8.600 Z" fill="#fff"/></svg>
<svg style="left:1559px;top:181px;" width="13" height="16" viewBox="0 0 13 16"><path d="M.7 .7H8.600L12.300 4.400V15.300H.7Z" fill="#fff" stroke="#5a6a86" stroke-width="1"/><path d="M8.400 .8V4.600H12.200" fill="none" stroke="#5a6a86" stroke-width="1"/><path d="M3 7.600H8M3 9.800H6.400M3 12H7.400" stroke="#7a8aa4" stroke-width="1"/></svg>
<div class="t " style="left:1579.5px;top:180.00px;line-height:18px;height:18px;font-size:11.500px;color:#1b1b33;">CO2e Fußabdruck</div>
<svg style="left:1559px;top:199px;" width="13" height="16" viewBox="0 0 13 16"><path d="M.7 .7H8.600L12.300 4.400V15.300H.7Z" fill="#fff" stroke="#5a6a86" stroke-width="1"/><path d="M8.400 .8V4.600H12.200" fill="none" stroke="#5a6a86" stroke-width="1"/><path d="M3 7.600H8M3 9.800H6.400M3 12H7.400" stroke="#7a8aa4" stroke-width="1"/></svg>
<div class="t " style="left:1579.5px;top:198.00px;line-height:18px;height:18px;font-size:11.900px;color:#6e6e82;">Kalkulationsblatt</div>
<div style="left:1899px;top:742px;width:15px;height:24px;border:1px solid #dfe6f0;"></div>
<div style="left:1903px;top:880px;width:14px;height:2px;background:#bccadc;"></div>
<div style="left:1029px;top:388px;width:875px;height:600px;background:#d5dbe3;border-radius:7px 7px 0 0;"></div>
<div style="left:1030px;top:389px;width:873px;height:600px;background:#118fc8;border-radius:6px 6px 0 0;"></div>
<div style="left:1036.3px;top:420px;width:862px;height:62px;background:#fff;"></div>
<svg style="left:1040px;top:396.5px;" width="14" height="15" viewBox="0 0 14 15"><path d="M7 .4 L13.600 3.600 V11.200 L7 14.600 L.4 11.200 V3.600 Z" fill="#fff"/><path d="M7 .4 L13.600 3.600 L12.400 4.600 L7 2 L1.600 4.600 L.4 3.600 Z" fill="#123a68"/><path d="M1.400 9.800 L4.200 6 L6.400 9 L8.400 6 H12.400" fill="none" stroke="#1a7ab8" stroke-width="1.500"/><path d="M8.400 8.200H12.400M7.600 10.200H12.400" stroke="#1a7ab8" stroke-width=".9"/></svg>
<div class="t " style="left:1058.5px;top:395.50px;line-height:18px;height:18px;font-size:11.900px;color:#fff;">Druckvorschau: Kalkulationsblatt</div>
<div style="left:1783px;top:404px;width:10px;height:1px;background:#16242e;"></div>
<div style="left:1829px;top:399px;width:10px;height:10px;border:1px solid #16242e;"></div>
<svg style="left:1875px;top:399px;" width="10.2" height="10.2" viewBox="0 0 11 11"><path d="M.5 .5 L10.500 10.500 M10.500 .5 L.5 10.500" stroke="#16242e" stroke-width="1.100"/></svg>
<div style="left:1040px;top:424.5px;width:23.5px;height:21.5px;background:#fff;border:1px solid #cdd6e4;"></div>
<svg style="left:1043.75px;top:427.25px;" width="16" height="16" viewBox="0 0 16 16"><path d="M4 1h6.500l1.500 1.500V6H4z" fill="#eaf2fc" stroke="#7a9ad0" stroke-width=".8"/><rect x="1" y="6" width="14" height="6.500" rx="1.500" fill="#c8ccd2" stroke="#6a6e78" stroke-width=".9"/><rect x="3.500" y="10" width="9" height="4.500" fill="#fff" stroke="#7a9ad0" stroke-width=".8"/></svg>
<div style="left:1063px;top:424.5px;width:23.5px;height:21.5px;background:#fff;border:1px solid #cdd6e4;"></div>
<svg style="left:1066.75px;top:427.25px;" width="16" height="16" viewBox="0 0 16 16"><path d="M1 4h5l1.200 1.500H14V14H1z" fill="#f3b43c" stroke="#b87a12" stroke-width=".9"/><path d="M1 14L3 7.500H15.500L14 14z" fill="#fbd06a" stroke="#b87a12" stroke-width=".9"/><path d="M9 3q3-2.500 5 0" fill="none" stroke="#5a6a88" stroke-width=".9"/><path d="M14.800 1.200v2.400h-2.400" fill="none" stroke="#5a6a88" stroke-width=".9"/></svg>
<div style="left:1086px;top:424.5px;width:23.5px;height:21.5px;background:#fff;border:1px solid #cdd6e4;"></div>
<svg style="left:1089.75px;top:427.25px;" width="16" height="16" viewBox="0 0 16 16"><rect x="1" y="1" width="14" height="14" rx="1.500" fill="#5a8ee0" stroke="#2a56b0" stroke-width=".9"/><rect x="3.500" y="1.500" width="9" height="5.500" fill="#eaf0fa"/><rect x="8" y="2.300" width="2" height="3.500" fill="#5a8ee0"/><rect x="3" y="9.500" width="10" height="5" fill="#8ed06a"/><path d="M4 11h8M4 13h8" stroke="#4a9a2a" stroke-width=".9"/></svg>
<div style="left:1109px;top:424.5px;width:23.5px;height:21.5px;background:#fff;border:1px solid #cdd6e4;"></div>
<svg style="left:1112.75px;top:427.25px;" width="16" height="16" viewBox="0 0 16 16"><path d="M2 1.500h6.500L11 4v9.500H2z" fill="#f7f9fc" stroke="#8a96aa" stroke-width=".9"/><path d="M3.600 13.500v1.200H12V5" fill="none" stroke="#8a96aa" stroke-width=".9"/><path d="M10 7.500h3.500V11H15.600L11.800 15.400L8 11H10z" fill="#4aa83a" stroke="#2a7a1e" stroke-width=".7"/></svg>
<div style="left:1132px;top:424.5px;width:23.5px;height:21.5px;background:#fff;border:1px solid #cdd6e4;"></div>
<svg style="left:1135.75px;top:427.25px;" width="16" height="16" viewBox="0 0 16 16"><path d="M8.200 1.200 q1.400 0 .9 3 q-.6 3.200 -2.600 6.600 q-2 3.200 -3.600 3.600 q-1.600 0 -.7 -1.500 q1.300 -1.900 5.300 -3.100 q3.700 -1 5.600 -.4 q1.500 .7 .5 1.500 q-1.700 .8 -4.400 -1.300 q-2.500 -2.100 -3.200 -5 q-.6 -3.400 1.200 -3.400z" fill="none" stroke="#e01818" stroke-width="1.500"/></svg>
<div style="left:1155px;top:424.5px;width:23.5px;height:21.5px;background:#fff;border:1px solid #cdd6e4;"></div>
<svg style="left:1158.75px;top:427.25px;" width="16" height="16" viewBox="0 0 16 16"><rect x="1.500" y="1" width="9" height="11" fill="#3a8a8a"/><rect x="4" y="3" width="9.500" height="11.500" fill="#d8dce8" stroke="#6a6e88" stroke-width=".7"/><path d="M2 1.500l3 13M3 6l9 8M6 2.500c6-1 6 5 1 5l5 6" fill="none" stroke="#8a1aa0" stroke-width="1"/><path d="M11 11l4 4" stroke="#c01818" stroke-width="1"/></svg>
<div style="left:1178px;top:424.5px;width:23.5px;height:21.5px;background:#fff;border:1px solid #cdd6e4;"></div>
<svg style="left:1181.75px;top:427.25px;" width="16" height="16" viewBox="0 0 16 16"><rect x="1" y="3.500" width="14" height="10" fill="#dcecfb" stroke="#6a9ad8" stroke-width="1"/><path d="M1.200 3.800L8 9.500L14.800 3.800M1.200 13.300L6 8M14.800 13.300L10 8" fill="none" stroke="#6a9ad8" stroke-width=".9"/></svg>
<div style="left:1201px;top:424.5px;width:23px;height:21.5px;background:#fff;border:1px solid #cdd6e4;"></div>
<svg style="left:1204.5px;top:427.25px;" width="16" height="16" viewBox="0 0 16 16"><path d="M3.500 2h3v4h-3zM9.500 2h3v4h-3z" fill="#5a78a8"/><path d="M3 5.500h3.800V14H1.600V9zM9.200 5.500H13L14.400 9V14H9.200z" fill="#6a88b8" stroke="#3a568a" stroke-width=".7"/><rect x="6.800" y="7" width="2.400" height="3" fill="#3a568a"/><rect x="2.300" y="11" width="3.800" height="2.500" fill="#dce6f4"/><rect x="9.900" y="11" width="3.800" height="2.500" fill="#dce6f4"/></svg>
<div style="left:1232px;top:424.5px;width:23px;height:21.5px;background:#fff;border:1px solid #cdd6e4;"></div>
<svg style="left:1235.5px;top:427.25px;" width="16" height="16" viewBox="0 0 16 16"><path d="M3 7q.5-3 4.500-3h2V1.800L13.800 5L9.500 8.200V6h-2q-2.500 0-2.800 1.500z" fill="#2a62d8"/><path d="M13 9q-.5 3-4.500 3h-2v2.200L2.200 11L6.500 7.800V10h2q2.500 0 2.800-1.500z" fill="#2a62d8"/></svg>
<div style="left:1263px;top:424.5px;width:23px;height:21.5px;background:#fff;border:1px solid #cdd6e4;"></div>
<svg style="left:1266.5px;top:427.25px;" width="16" height="16" viewBox="0 0 16 16"><circle cx="6.500" cy="6" r="4.800" fill="#e4ecf6" stroke="#7a8498" stroke-width="1.100"/><path d="M4 6h5M6.500 3.500v5" stroke="#2a4a9a" stroke-width="1.500"/><path d="M10 9.500l4.200 4.200" stroke="#c8a020" stroke-width="2.400" stroke-linecap="round"/></svg>
<div style="left:1290px;top:426px;width:49px;height:19px;background:#fff;border:1px solid #dfe6f0;"><div class="t" style="left:2.500px;top:0;line-height:18px;font-size:10.200px;color:#111;">100%</div><svg style="left:34px;top:6px" width="9" height="6" viewBox="0 0 9 6"><path d="M.6 .8L4.500 4.800L8.400 .8" fill="none" stroke="#555" stroke-width="1"/></svg></div>
<div style="left:1342px;top:424.5px;width:23px;height:21.5px;background:#fff;border:1px solid #cdd6e4;"></div>
<svg style="left:1345.5px;top:427.25px;" width="16" height="16" viewBox="0 0 16 16"><circle cx="6.500" cy="6" r="4.800" fill="#e4ecf6" stroke="#7a8498" stroke-width="1.100"/><path d="M4 6h5" stroke="#6a7488" stroke-width="1.500"/><path d="M10 9.500l4.200 4.200" stroke="#c8a020" stroke-width="2.400" stroke-linecap="round"/></svg>
<div style="left:1365px;top:424.5px;width:23px;height:21.5px;background:#fff;border:1px solid #cdd6e4;"></div>
<svg style="left:1368.5px;top:427.25px;" width="16" height="16" viewBox="0 0 16 16"><rect x="1" y="2" width="14" height="11.500" rx="1" fill="#3a68e0" stroke="#1a3a9a" stroke-width="1"/><rect x="3" y="4" width="10" height="7.500" fill="#9ab8f4"/><path d="M4 6h8M4 8h8M4 10h6" stroke="#e8f0fc" stroke-width="1"/></svg>
<div style="left:1396px;top:424.5px;width:23px;height:21.5px;background:#fff;border:1px solid #cdd6e4;"></div>
<svg style="left:1399.5px;top:427.25px;" width="16" height="16" viewBox="0 0 16 16"><rect x="2.500" y="1.500" width="11.500" height="12.500" fill="#f4f7fc" stroke="#5a6a9a" stroke-width="1"/><path d="M2.500 14.400h11.800" stroke="#2a3a6a" stroke-width="1.200"/><path d="M7 4.500h5M7 7h5M7 9.500h5M7 12h5" stroke="#7a8ab8" stroke-width="1"/><path d="M4.500 4.500h1M4.500 7h1M4.500 9.500h1" stroke="#4a5a8a" stroke-width="1"/></svg>
<div style="left:1419px;top:424.5px;width:23px;height:21.5px;background:#fff;border:1px solid #cdd6e4;"></div>
<svg style="left:1422.5px;top:427.25px;" width="16" height="16" viewBox="0 0 16 16"><rect x="1.500" y="2.500" width="13.500" height="11.500" fill="#eef2fa" stroke="#4a6ab8" stroke-width="1.100"/><path d="M1.500 4.200H15" stroke="#6a8ad0" stroke-width="1.600"/><path d="M6 4.500v9.500" stroke="#4a6ab8" stroke-width="1"/><path d="M3 6.500h1.500M3 9h1.500M3 11.500h1.500M3.800 6v6" stroke="#8a7a4a" stroke-width=".8"/><rect x="7.500" y="6" width="6" height="6.500" fill="#dce4f4"/></svg>
<div style="left:1442px;top:424.5px;width:23px;height:21.5px;background:#fff;border:1px solid #cdd6e4;"></div>
<svg style="left:1445.5px;top:427.25px;" width="16" height="16" viewBox="0 0 16 16"><rect x="4" y="1.500" width="10.500" height="12.500" fill="#e4e8f2" stroke="#8a92a8" stroke-width=".9"/><path d="M12.500 3.500l-1.800 1.800-1.400-1.400 1.800-1.800q-2-.5-3.200.8-1.100 1.300-.5 3L2.200 11q-.8 1 .1 1.900.9.800 1.900 0L9.400 7.800q1.700.6 3-.6 1.200-1.300.1-3.700z" fill="#8aaee8" stroke="#3a5aa8" stroke-width=".8"/></svg>
<div style="left:1465px;top:424.5px;width:23px;height:21.5px;background:#fff;border:1px solid #cdd6e4;"></div>
<svg style="left:1468.5px;top:427.25px;" width="16" height="16" viewBox="0 0 16 16"><rect x="2" y="4.500" width="10" height="10" fill="#f6f8fc" stroke="#4a5a8a" stroke-width="1"/><path d="M5 11.500L5.800 8.600L12.600 1.800L14.800 4L8 10.800z" fill="#f4b840" stroke="#b87a12" stroke-width=".8"/><path d="M5 11.500l.8-2.900 2.200 2.200z" fill="#f8e4c0"/><path d="M11.600 2.800l2.200 2.200" stroke="#d05a5a" stroke-width="1.400"/></svg>
<div style="left:1040px;top:455px;width:23.5px;height:22px;background:#fff;border:1px solid #cdd6e4;"></div>
<svg style="left:1043.75px;top:458.0px;" width="16" height="16" viewBox="0 0 16 16"><path d="M4.600 2.500v11" stroke="#2a5ad0" stroke-width="2.200"/><path d="M12.400 2.300v11.400L5.600 8z" fill="#3a72e8" stroke="#1a3aa8" stroke-width=".6"/></svg>
<div style="left:1063px;top:455px;width:23px;height:22px;background:#fff;border:1px solid #cdd6e4;"></div>
<svg style="left:1066.5px;top:458.0px;" width="16" height="16" viewBox="0 0 16 16"><path d="M11 2.300v11.400L4.200 8z" fill="#3a72e8" stroke="#1a3aa8" stroke-width=".6"/></svg>
<div class="t " style="left:1090.5px;top:457.00px;line-height:18px;height:18px;font-size:11.500px;color:#111;">1</div>
<div style="left:1133px;top:455px;width:23.5px;height:22px;background:#fff;border:1px solid #cdd6e4;"></div>
<svg style="left:1136.75px;top:458.0px;" width="16" height="16" viewBox="0 0 16 16"><path d="M5 2.300v11.400L11.800 8z" fill="#3a72e8" stroke="#1a3aa8" stroke-width=".6"/></svg>
<div style="left:1156px;top:455px;width:23px;height:22px;background:#fff;border:1px solid #cdd6e4;"></div>
<svg style="left:1159.5px;top:458.0px;" width="16" height="16" viewBox="0 0 16 16"><path d="M11.400 2.500v11" stroke="#2a5ad0" stroke-width="2.200"/><path d="M3.600 2.300v11.400L10.400 8z" fill="#3a72e8" stroke="#1a3aa8" stroke-width=".6"/></svg>
<div class="t " style="left:1204.5px;top:457.50px;line-height:18px;height:18px;font-size:10.800px;color:#6e6e6e;">Nach Druck im DMS ablegen</div>
<div style="left:1367px;top:460px;width:13px;height:13px;background:#fff;border:1.300px solid #7e8eae;"></div>
<div style="left:1403px;top:455px;width:68px;height:22px;background:#fff;border:1px solid #c5cedc;"><div class="t" style="left:0;top:0;width:66px;text-align:center;line-height:20.500px;font-size:10.900px;color:#111;">Schließen</div></div>
<div style="left:1037px;top:482px;width:842px;height:500px;background:#808080;border-top:1px solid #6a6a6a;"></div>
<div style="left:1879px;top:482px;width:19.3px;height:500px;background:#f0f0f0;border-top:1px solid #8a8a8a;"></div>
<div style="left:1887.5px;top:500px;width:2px;height:212px;background:#858585;"></div>
<div style="left:1045.5px;top:492px;width:821px;height:500px;background:#fff;border:2.500px solid #f3b632;border-bottom:none;box-shadow:0 0 0 1px #6e6e6e;"></div>
<div class="t " style="left:1126.5px;top:531.00px;line-height:30px;height:30px;font-size:22.700px;font-weight:700;color:#000;">Kalkulationsblatt</div>
<div class="t " style="left:1693px;top:533.00px;line-height:14px;height:14px;font-size:10.600px;color:#000;">Seite:</div>
<div class="t " style="left:1799px;top:533.00px;line-height:14px;height:14px;font-size:10.600px;color:#000;letter-spacing:.3px;">1 / 1</div>
<div style="left:1124px;top:568.5px;width:702px;height:2px;background:#000;"></div>
<div class="t " style="left:1126px;top:610.20px;line-height:18px;height:18px;font-size:13.1px;color:#000;letter-spacing:0.646px;font-weight:700;">Artikel.-Nr.</div>
<div class="t " style="left:1270px;top:610.20px;line-height:18px;height:18px;font-size:13.1px;color:#000;letter-spacing:0.608px;font-weight:700;">LICHT2</div>
<div class="t pv" style="left:1126px;top:629.00px;line-height:18px;height:18px;">Artikel.-Bez.</div>
<div class="t pv" style="left:1270px;top:629.00px;line-height:18px;height:18px;">Licht Luxus</div>
<div class="t pv" style="left:1126px;top:647.00px;line-height:18px;height:18px;">Artikel.-Bez.2</div>
<div class="t pv" style="left:1126px;top:663.70px;line-height:18px;height:18px;">Preis</div>
<div class="t pv" style="left:1270px;top:663.70px;line-height:18px;height:18px;">1.393,97500</div>
<div class="t pv" style="left:1622.5px;top:629.00px;line-height:18px;height:18px;">PE Einkauf</div>
<div class="t pv" style="left:1768px;top:629.00px;line-height:18px;height:18px;">Stk</div>
<div class="t pv" style="left:1622.5px;top:647.00px;line-height:18px;height:18px;">Preisverwendung</div>
<div class="t pv" style="left:1768px;top:647.00px;line-height:18px;height:18px;">A</div>
<div class="t pv" style="left:1622.5px;top:663.70px;line-height:18px;height:18px;">Wiederbeschaffungszeit</div>
<div class="t pv" style="left:1768px;top:663.70px;line-height:18px;height:18px;">0</div>
<div style="left:1305.0px;top:711.7px;width:131.3px;height:16.36px;border:1.500px solid #000;background:#fff;"><div class="t" style="right:2px;top:0;line-height:14.06px;font-size:11.200px;font-weight:700;color:#000;letter-spacing:-.05px;">Arbeitsplan</div></div>
<div style="left:1435.0px;top:711.7px;width:131.3px;height:16.36px;border:1.500px solid #000;background:#fff;"><div class="t" style="right:2px;top:0;line-height:14.06px;font-size:11.200px;font-weight:700;color:#000;letter-spacing:-.05px;">Stückliste</div></div>
<div style="left:1565.0px;top:711.7px;width:131.3px;height:16.36px;border:1.500px solid #000;background:#fff;"><div class="t" style="right:2px;top:0;line-height:14.06px;font-size:11.200px;font-weight:700;color:#000;letter-spacing:-.05px;">Einkauf</div></div>
<div style="left:1695.0px;top:711.7px;width:131.59999999999997px;height:16.36px;border:1.500px solid #000;background:#fff;"><div class="t" style="right:2px;top:0;line-height:14.06px;font-size:11.200px;font-weight:700;color:#000;letter-spacing:-.05px;">Vorgabe</div></div>
<div style="left:1123.5px;top:727.26px;width:182.8px;height:16.46px;border:1.400px solid #000;background:#fff;"><div class="t pt" style="left:1.500px;top:0;line-height:15.16px;">Datum</div></div>
<div style="left:1305.5px;top:727.56px;width:131.0px;height:16.36px;border:1px solid #c8c8c8;"><div class="t pt" style="right:2.500px;top:0;line-height:14.96px;letter-spacing:0;font-size:10.600px;">13.12.2020</div></div>
<div style="left:1435.5px;top:727.56px;width:131.0px;height:16.36px;border:1px solid #c8c8c8;"><div class="t pt" style="right:2.500px;top:0;line-height:14.96px;letter-spacing:0;font-size:10.600px;">06.09.2012</div></div>
<div style="left:1565.5px;top:727.56px;width:131.0px;height:16.36px;border:1px solid #c8c8c8;"><div class="t pt" style="right:2.500px;top:0;line-height:14.96px;letter-spacing:0;font-size:10.600px;"></div></div>
<div style="left:1695.5px;top:727.56px;width:131.29999999999995px;height:16.36px;border:1px solid #c8c8c8;"><div class="t pt" style="right:2.500px;top:0;line-height:14.96px;letter-spacing:0;font-size:10.600px;"></div></div>
<div style="left:1123.5px;top:742.82px;width:182.8px;height:16.46px;border:1.400px solid #000;background:#fff;"><div class="t pt" style="left:1.500px;top:0;line-height:15.16px;">Materialkosten</div></div>
<div style="left:1305.5px;top:743.12px;width:131.0px;height:16.36px;border:1px solid #c8c8c8;"><div class="t pt" style="right:2.500px;top:0;line-height:14.96px;letter-spacing:0;font-size:10.600px;">1.320,00000</div></div>
<div style="left:1435.5px;top:743.12px;width:131.0px;height:16.36px;border:1px solid #c8c8c8;"><div class="t pt" style="right:2.500px;top:0;line-height:14.96px;letter-spacing:0;font-size:10.600px;">1.320,00000</div></div>
<div style="left:1565.5px;top:743.12px;width:131.0px;height:16.36px;border:1px solid #c8c8c8;"><div class="t pt" style="right:2.500px;top:0;line-height:14.96px;letter-spacing:0;font-size:10.600px;">0,00000</div></div>
<div style="left:1695.5px;top:743.12px;width:131.29999999999995px;height:16.36px;border:1px solid #c8c8c8;"><div class="t pt" style="right:2.500px;top:0;line-height:14.96px;letter-spacing:0;font-size:10.600px;">0,00000</div></div>
<div style="left:1123.5px;top:758.38px;width:182.8px;height:16.46px;border:1.400px solid #000;background:#fff;"><div class="t pt" style="left:1.500px;top:0;line-height:15.16px;">Fremdfert.-Kosten</div></div>
<div style="left:1305.5px;top:758.68px;width:131.0px;height:16.36px;border:1px solid #c8c8c8;"><div class="t pt" style="right:2.500px;top:0;line-height:14.96px;letter-spacing:0;font-size:10.600px;">0,00000</div></div>
<div style="left:1435.5px;top:758.68px;width:131.0px;height:16.36px;border:1px solid #c8c8c8;"><div class="t pt" style="right:2.500px;top:0;line-height:14.96px;letter-spacing:0;font-size:10.600px;">0,00000</div></div>
<div style="left:1565.5px;top:758.68px;width:131.0px;height:16.36px;border:1px solid #c8c8c8;"><div class="t pt" style="right:2.500px;top:0;line-height:14.96px;letter-spacing:0;font-size:10.600px;">0,00000</div></div>
<div style="left:1695.5px;top:758.68px;width:131.29999999999995px;height:16.36px;border:1px solid #c8c8c8;"><div class="t pt" style="right:2.500px;top:0;line-height:14.96px;letter-spacing:0;font-size:10.600px;">0,00000</div></div>
<div style="left:1123.5px;top:773.94px;width:182.8px;height:16.46px;border:1.400px solid #000;background:#fff;"><div class="t pt" style="left:1.500px;top:0;line-height:15.16px;">Anpassungsfaktor</div></div>
<div style="left:1305.5px;top:774.24px;width:131.0px;height:16.36px;border:1px solid #c8c8c8;"><div class="t pt" style="right:2.500px;top:0;line-height:14.96px;letter-spacing:0;font-size:10.600px;">0,00000</div></div>
<div style="left:1435.5px;top:774.24px;width:131.0px;height:16.36px;border:1px solid #c8c8c8;"><div class="t pt" style="right:2.500px;top:0;line-height:14.96px;letter-spacing:0;font-size:10.600px;">0,00000</div></div>
<div style="left:1565.5px;top:774.24px;width:131.0px;height:16.36px;border:1px solid #c8c8c8;"><div class="t pt" style="right:2.500px;top:0;line-height:14.96px;letter-spacing:0;font-size:10.600px;">0,00000</div></div>
<div style="left:1695.5px;top:774.24px;width:131.29999999999995px;height:16.36px;border:1px solid #c8c8c8;"><div class="t pt" style="right:2.500px;top:0;line-height:14.96px;letter-spacing:0;font-size:10.600px;">0,00000</div></div>
<div style="left:1123.5px;top:789.5px;width:182.8px;height:16.46px;border:1.400px solid #000;background:#fff;"><div class="t pt" style="left:1.500px;top:0;line-height:15.16px;">Materialgemeinkosten</div></div>
<div style="left:1305.5px;top:789.8px;width:131.0px;height:16.36px;border:1px solid #c8c8c8;"><div class="t pt" style="right:2.500px;top:0;line-height:14.96px;letter-spacing:0;font-size:10.600px;">0,00000</div></div>
<div style="left:1435.5px;top:789.8px;width:131.0px;height:16.36px;border:1px solid #c8c8c8;"><div class="t pt" style="right:2.500px;top:0;line-height:14.96px;letter-spacing:0;font-size:10.600px;">0,00000</div></div>
<div style="left:1565.5px;top:789.8px;width:131.0px;height:16.36px;border:1px solid #c8c8c8;"><div class="t pt" style="right:2.500px;top:0;line-height:14.96px;letter-spacing:0;font-size:10.600px;">0,00000</div></div>
<div style="left:1695.5px;top:789.8px;width:131.29999999999995px;height:16.36px;border:1px solid #c8c8c8;"><div class="t pt" style="right:2.500px;top:0;line-height:14.96px;letter-spacing:0;font-size:10.600px;">0,00000</div></div>
<div style="left:1123.5px;top:805.0600000000001px;width:182.8px;height:16.46px;border:1.400px solid #000;background:#fff;"><div class="t pt" style="left:1.500px;top:0;line-height:15.16px;font-weight:700;font-size:11.300px;letter-spacing:-.1px;">Summe Material</div></div>
<div style="left:1305.5px;top:805.36px;width:131.0px;height:16.36px;border:1px solid #c8c8c8;"><div class="t pt" style="right:2.500px;top:0;line-height:14.96px;font-weight:700;font-size:12.200px;letter-spacing:0;">1.320,00000</div></div>
<div style="left:1435.5px;top:805.36px;width:131.0px;height:16.36px;border:1px solid #c8c8c8;"><div class="t pt" style="right:2.500px;top:0;line-height:14.96px;font-weight:700;font-size:12.200px;letter-spacing:0;">1.320,00000</div></div>
<div style="left:1565.5px;top:805.36px;width:131.0px;height:16.36px;border:1px solid #c8c8c8;"><div class="t pt" style="right:2.500px;top:0;line-height:14.96px;font-weight:700;font-size:12.200px;letter-spacing:0;">0,00000</div></div>
<div style="left:1695.5px;top:805.36px;width:131.29999999999995px;height:16.36px;border:1px solid #c8c8c8;"><div class="t pt" style="right:2.500px;top:0;line-height:14.96px;font-weight:700;font-size:12.200px;letter-spacing:0;">0,00000</div></div>
<div style="left:1123.5px;top:820.62px;width:182.8px;height:16.46px;border:1.400px solid #000;background:#fff;"><div class="t pt" style="left:1.500px;top:0;line-height:15.16px;">Lohnkosten</div></div>
<div style="left:1305.5px;top:820.92px;width:131.0px;height:16.36px;border:1px solid #c8c8c8;"><div class="t pt" style="right:2.500px;top:0;line-height:14.96px;letter-spacing:0;font-size:10.600px;">19,75000</div></div>
<div style="left:1435.5px;top:820.92px;width:131.0px;height:16.36px;border:1px solid #c8c8c8;"><div class="t pt" style="right:2.500px;top:0;line-height:14.96px;letter-spacing:0;font-size:10.600px;">0,00000</div></div>
<div style="left:1565.5px;top:820.92px;width:131.0px;height:16.060000000000002px;border-left:1px solid #c8c8c8;border-right:1px solid #c8c8c8;"></div>
<div style="left:1695.5px;top:820.92px;width:131.29999999999995px;height:16.36px;border:1px solid #c8c8c8;"><div class="t pt" style="right:2.500px;top:0;line-height:14.96px;letter-spacing:0;font-size:10.600px;">0,00000</div></div>
<div style="left:1123.5px;top:836.1800000000001px;width:182.8px;height:16.46px;border:1.400px solid #000;background:#fff;"><div class="t pt" style="left:1.500px;top:0;line-height:15.16px;">Lohngemeinkosten</div></div>
<div style="left:1305.5px;top:836.48px;width:131.0px;height:16.36px;border:1px solid #c8c8c8;"><div class="t pt" style="right:2.500px;top:0;line-height:14.96px;letter-spacing:0;font-size:10.600px;">1,97500</div></div>
<div style="left:1435.5px;top:836.48px;width:131.0px;height:16.36px;border:1px solid #c8c8c8;"><div class="t pt" style="right:2.500px;top:0;line-height:14.96px;letter-spacing:0;font-size:10.600px;">0,00000</div></div>
<div style="left:1565.5px;top:836.48px;width:131.0px;height:16.060000000000002px;border-left:1px solid #c8c8c8;border-right:1px solid #c8c8c8;"></div>
<div style="left:1695.5px;top:836.48px;width:131.29999999999995px;height:16.36px;border:1px solid #c8c8c8;"><div class="t pt" style="right:2.500px;top:0;line-height:14.96px;letter-spacing:0;font-size:10.600px;">0,00000</div></div>
<div style="left:1123.5px;top:851.74px;width:182.8px;height:16.46px;border:1.400px solid #000;background:#fff;"><div class="t pt" style="left:1.500px;top:0;line-height:15.16px;">Summe Lohnkosten</div></div>
<div style="left:1305.5px;top:852.04px;width:131.0px;height:16.36px;border:1px solid #c8c8c8;"><div class="t pt" style="right:2.500px;top:0;line-height:14.96px;letter-spacing:0;font-size:10.600px;">21,72500</div></div>
<div style="left:1435.5px;top:852.04px;width:131.0px;height:16.36px;border:1px solid #c8c8c8;"><div class="t pt" style="right:2.500px;top:0;line-height:14.96px;letter-spacing:0;font-size:10.600px;">0,00000</div></div>
<div style="left:1565.5px;top:852.04px;width:131.0px;height:16.060000000000002px;border-left:1px solid #c8c8c8;border-right:1px solid #c8c8c8;"></div>
<div style="left:1695.5px;top:852.04px;width:131.29999999999995px;height:16.36px;border:1px solid #c8c8c8;"><div class="t pt" style="right:2.500px;top:0;line-height:14.96px;letter-spacing:0;font-size:10.600px;">0,00000</div></div>
<div style="left:1123.5px;top:867.3000000000001px;width:182.8px;height:16.46px;border:1.400px solid #000;background:#fff;"><div class="t pt" style="left:1.500px;top:0;line-height:15.16px;">Maschinenkosten</div></div>
<div style="left:1305.5px;top:867.6px;width:131.0px;height:16.36px;border:1px solid #c8c8c8;"><div class="t pt" style="right:2.500px;top:0;line-height:14.96px;letter-spacing:0;font-size:10.600px;">52,25000</div></div>
<div style="left:1435.5px;top:867.6px;width:131.0px;height:16.36px;border:1px solid #c8c8c8;"><div class="t pt" style="right:2.500px;top:0;line-height:14.96px;letter-spacing:0;font-size:10.600px;">0,00000</div></div>
<div style="left:1565.5px;top:867.6px;width:131.0px;height:16.060000000000002px;border-left:1px solid #c8c8c8;border-right:1px solid #c8c8c8;"></div>
<div style="left:1695.5px;top:867.6px;width:131.29999999999995px;height:16.36px;border:1px solid #c8c8c8;"><div class="t pt" style="right:2.500px;top:0;line-height:14.96px;letter-spacing:0;font-size:10.600px;">0,00000</div></div>
<div style="left:1123.5px;top:882.86px;width:182.8px;height:16.46px;border:1.400px solid #000;background:#fff;"><div class="t pt" style="left:1.500px;top:0;line-height:15.16px;">Masch.-Gemeinkosten</div></div>
<div style="left:1305.5px;top:883.16px;width:131.0px;height:16.36px;border:1px solid #c8c8c8;"><div class="t pt" style="right:2.500px;top:0;line-height:14.96px;letter-spacing:0;font-size:10.600px;">0,00000</div></div>
<div style="left:1435.5px;top:883.16px;width:131.0px;height:16.36px;border:1px solid #c8c8c8;"><div class="t pt" style="right:2.500px;top:0;line-height:14.96px;letter-spacing:0;font-size:10.600px;">0,00000</div></div>
<div style="left:1565.5px;top:883.16px;width:131.0px;height:16.060000000000002px;border-left:1px solid #c8c8c8;border-right:1px solid #c8c8c8;"></div>
<div style="left:1695.5px;top:883.16px;width:131.29999999999995px;height:16.36px;border:1px solid #c8c8c8;"><div class="t pt" style="right:2.500px;top:0;line-height:14.96px;letter-spacing:0;font-size:10.600px;">0,00000</div></div>
<div style="left:1123.5px;top:898.4200000000001px;width:182.8px;height:16.46px;border:1.400px solid #000;background:#fff;"><div class="t pt" style="left:1.500px;top:0;line-height:15.16px;">Summe Masch.-Kosten</div></div>
<div style="left:1305.5px;top:898.72px;width:131.0px;height:16.36px;border:1px solid #c8c8c8;"><div class="t pt" style="right:2.500px;top:0;line-height:14.96px;letter-spacing:0;font-size:10.600px;">52,25000</div></div>
<div style="left:1435.5px;top:898.72px;width:131.0px;height:16.36px;border:1px solid #c8c8c8;"><div class="t pt" style="right:2.500px;top:0;line-height:14.96px;letter-spacing:0;font-size:10.600px;">0,00000</div></div>
<div style="left:1565.5px;top:898.72px;width:131.0px;height:16.060000000000002px;border-left:1px solid #c8c8c8;border-right:1px solid #c8c8c8;"></div>
<div style="left:1695.5px;top:898.72px;width:131.29999999999995px;height:16.36px;border:1px solid #c8c8c8;"><div class="t pt" style="right:2.500px;top:0;line-height:14.96px;letter-spacing:0;font-size:10.600px;">0,00000</div></div>
<div style="left:1123.5px;top:913.98px;width:182.8px;height:16.46px;border:1.400px solid #000;background:#fff;"><div class="t pt" style="left:1.500px;top:0;line-height:15.16px;font-weight:700;font-size:11.300px;letter-spacing:-.1px;">Summe Fertigung</div></div>
<div style="left:1305.5px;top:914.28px;width:131.0px;height:16.36px;border:1px solid #c8c8c8;"><div class="t pt" style="right:2.500px;top:0;line-height:14.96px;font-weight:700;font-size:12.200px;letter-spacing:0;">73,97500</div></div>
<div style="left:1435.5px;top:914.28px;width:131.0px;height:16.36px;border:1px solid #c8c8c8;"><div class="t pt" style="right:2.500px;top:0;line-height:14.96px;font-weight:700;font-size:12.200px;letter-spacing:0;">0,00000</div></div>
<div style="left:1565.5px;top:914.28px;width:131.0px;height:16.060000000000002px;border-left:1px solid #c8c8c8;border-right:1px solid #c8c8c8;"></div>
<div style="left:1695.5px;top:914.28px;width:131.29999999999995px;height:16.36px;border:1px solid #c8c8c8;"><div class="t pt" style="right:2.500px;top:0;line-height:14.96px;font-weight:700;font-size:12.200px;letter-spacing:0;">0,00000</div></div>
<div style="left:1123.5px;top:929.5400000000001px;width:182.8px;height:16.46px;border:1.400px solid #000;background:#fff;"><div class="t pt" style="left:1.500px;top:0;line-height:15.16px;font-weight:700;font-size:11.300px;letter-spacing:-.1px;">Summe Gesamt</div></div>
<div style="left:1305.5px;top:929.84px;width:131.0px;height:16.36px;border:1px solid #c8c8c8;"><div class="t pt" style="right:2.500px;top:0;line-height:14.96px;font-weight:700;font-size:12.200px;letter-spacing:0;">1.393,97500</div></div>
<div style="left:1435.5px;top:929.84px;width:131.0px;height:16.36px;border:1px solid #c8c8c8;"><div class="t pt" style="right:2.500px;top:0;line-height:14.96px;font-weight:700;font-size:12.200px;letter-spacing:0;">1.320,00000</div></div>
<div style="left:1565.5px;top:929.84px;width:131.0px;height:16.36px;border:1px solid #c8c8c8;"><div class="t pt" style="right:2.500px;top:0;line-height:14.96px;font-weight:700;font-size:12.200px;letter-spacing:0;">0,00000</div></div>
<div style="left:1695.5px;top:929.84px;width:131.29999999999995px;height:16.36px;border:1px solid #c8c8c8;"><div class="t pt" style="right:2.500px;top:0;line-height:14.96px;font-weight:700;font-size:12.200px;letter-spacing:0;">0,00000</div></div>
<div style="left:1123.5px;top:945.1px;width:182.8px;height:16.46px;border:1.400px solid #000;background:#fff;"><div class="t pt" style="left:1.500px;top:0;line-height:15.16px;">Abweichung von Vorgabe</div></div>
<div style="left:1305.5px;top:945.4px;width:131.0px;height:16.36px;border:1px solid #c8c8c8;"><div class="t pt" style="right:2.500px;top:0;line-height:14.96px;letter-spacing:0;font-size:10.600px;">100,00000</div></div>
<div style="left:1435.5px;top:945.4px;width:131.0px;height:16.36px;border:1px solid #c8c8c8;"><div class="t pt" style="right:2.500px;top:0;line-height:14.96px;letter-spacing:0;font-size:10.600px;">100,00000</div></div>
<div style="left:1565.5px;top:945.4px;width:131.0px;height:16.36px;border:1px solid #c8c8c8;"><div class="t pt" style="right:2.500px;top:0;line-height:14.96px;letter-spacing:0;font-size:10.600px;">0,00000</div></div>
<div style="left:1030px;top:420px;width:6.3px;height:560px;background:#118fc8;"></div>
<div style="left:1898.3px;top:420px;width:4.7px;height:560px;background:#118fc8;"></div>
</div></body></html>
